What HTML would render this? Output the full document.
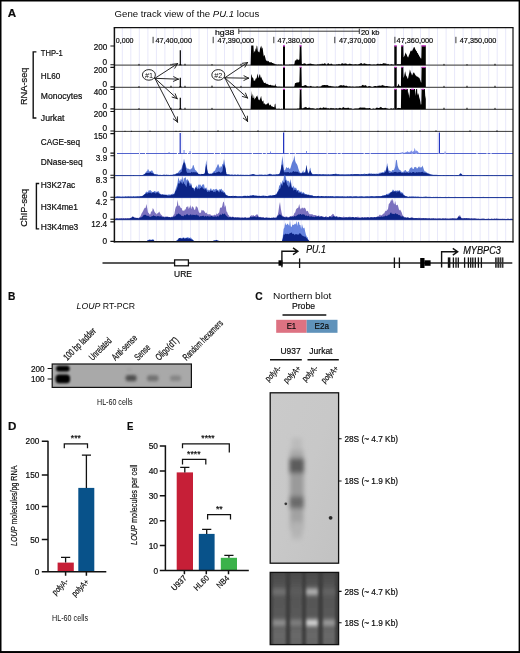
<!DOCTYPE html>
<html lang="en"><head><meta charset="utf-8"><title>LOUP figure</title>
<style>
html,body{margin:0;padding:0;background:#fff;}
body{width:520px;height:653px;overflow:hidden;position:relative;}
svg{position:absolute;left:0;top:0;display:block;will-change:transform;opacity:0.999;}
svg text{font-family:"Liberation Sans",sans-serif;fill:#0c0c0c;stroke:#0c0c0c;stroke-width:.2px;}
svg text.lt{stroke:none;}
</style></head><body>
<svg width="520" height="653" viewBox="0 0 520 653">
<rect x="0" y="0" width="520" height="653" fill="#fff"/>
<path d="M122.3 28.1V241.8M130.8 28.1V241.8M139.3 28.1V241.8M147.9 28.1V241.8M156.4 28.1V241.8M164.9 28.1V241.8M173.4 28.1V241.8M181.9 28.1V241.8M190.5 28.1V241.8M199.0 28.1V241.8M207.5 28.1V241.8M216.0 28.1V241.8M224.5 28.1V241.8M233.1 28.1V241.8M241.6 28.1V241.8M250.1 28.1V241.8M258.6 28.1V241.8M267.1 28.1V241.8M275.7 28.1V241.8M284.2 28.1V241.8M292.7 28.1V241.8M301.2 28.1V241.8M309.7 28.1V241.8M318.3 28.1V241.8M326.8 28.1V241.8M335.3 28.1V241.8M343.8 28.1V241.8M352.3 28.1V241.8M360.9 28.1V241.8M369.4 28.1V241.8M377.9 28.1V241.8M386.4 28.1V241.8M394.9 28.1V241.8M403.5 28.1V241.8M412.0 28.1V241.8M420.5 28.1V241.8M429.0 28.1V241.8M437.5 28.1V241.8M446.1 28.1V241.8M454.6 28.1V241.8M463.1 28.1V241.8M471.6 28.1V241.8M480.1 28.1V241.8M488.7 28.1V241.8M497.2 28.1V241.8M505.7 28.1V241.8" stroke="#e8e8fa" stroke-width="1" fill="none"/>
<path d="M114.4 65.2H513.0" stroke="#5a5a5a" stroke-width="1.3"/>
<path d="M114.4 87.3H513.0" stroke="#5a5a5a" stroke-width="1.3"/>
<path d="M114.4 109.3H513.0" stroke="#5a5a5a" stroke-width="1.3"/>
<path d="M114.4 131.4H513.0" stroke="#222" stroke-width="0.9"/>
<path d="M138.2 65.2L139 63.5L139.8 65.2ZM170.2 65.2L171 63.6L171.8 65.2ZM184.2 65.2L185 63.2L185.8 65.2ZM211.2 65.2L212 63.7L212.8 65.2ZM240.2 65.2L241 63.3L241.8 65.2ZM443.2 65.2L444 63.5L444.8 65.2ZM466.2 65.2L467 63.7L467.8 65.2ZM494.2 65.2L495 63.3L495.8 65.2Z" fill="#000"/>
<path d="M178.9 65.2L179.7 64V50.2H180.9V64L181.9 65.2Z" fill="#000"/>
<path d="M250.6 65.2L250.6 65.2L251.2 45.6L251.7 45.6L252.3 45.6L252.8 45.6L253.4 45.6L253.9 53.1L254.5 50.6L255 52L255.6 48L256.1 50.1L256.7 45.6L257.2 46.3L257.8 50.9L258.3 52.2L258.9 51.2L259.4 52.7L260 49.1L260.5 46L261.1 48.9L261.6 45.6L262.2 47.7L262.7 48.4L263.3 53.3L263.8 56.4L264.4 54.8L264.9 56.2L265.5 58.5L266 60.4L266.6 60.8L267.1 60.5L267.7 61.6L268.2 60.7L268.8 61.6L269.3 62.4L269.9 61.9L270.4 62.5L271 62L271.5 62.2L272.1 62.9L272.6 63L273.2 63.2L273.7 63.4L274.3 63.6L274.8 64.3L275.4 64.3L275.9 64.3L276.5 64.5L277 64.4L277.6 64.7L278.1 64.5L278.7 64.6L279.2 64.7L279.8 64.6L280.3 64.6L280.9 64.7L281.4 64.6L282 64.7L282.5 64.7L282.5 65.2Z" fill="#000"/>
<rect x="283" y="45.6" width="2" height="19.6" fill="#000"/>
<path d="M285 65.2L285 64.7L285.4 64.7L285.8 64.7L286.2 64.7L286.6 64.7L287 64.7L287.4 64.7L287.8 64.7L288.2 64.7L288.6 64.7L289 64.7L289.4 64.6L289.8 64.6L290.2 64.7L290.6 64.6L291 64.6L291.4 64.6L291.8 64.6L292.2 64.6L292.6 64.6L293 64.6L293.4 64.6L293.8 64.6L294.2 64.6L294.6 63.1L295 60.3L295.4 60.4L295.8 60.6L296.2 60.3L296.6 59.6L297 58.4L297.4 59.4L297.8 59.8L298.2 59.6L298.6 60.3L299 59.8L299.4 59.3L299.8 45.6L300.2 45.6L300.6 45.6L301 45.6L301.4 45.6L301.8 63.8L302.2 63.9L302.6 63.9L303 63.9L303 65.2Z" fill="#000"/>
<path d="M303 65.2L303 63.8L304 63.4L305 63.2L306 64.2L307 64.4L308 63.8L309 64.1L310 63.4L311 63.7L312 64L313 64.2L314 64.3L315 64.8L316 64.5L317 64.7L318 64L319 64.7L320 63.7L321 64.5L322 63.5L323 63.9L324 63.7L325 62.9L326 64.4L327 64.4L328 63L329 63.8L330 64.6L331 63.6L332 63.9L333 64.8L334 64.6L335 64.8L336 64.6L337 64.2L338 64.6L339 63.8L340 64.5L341 64.3L342 63.1L343 63.7L344 63.7L345 63.4L346 63.6L347 63.9L348 64.6L349 63.8L350 63.7L351 63.9L352 64.3L353 64.6L354 64.6L355 64.3L356 64.2L357 64.6L358 64.4L359 64.1L360 63.7L361 63L362 63.5L363 64.4L364 62.9L365 63.7L366 63.7L367 64.3L368 64.2L369 64.3L370 64.1L371 64.8L372 64.5L373 64.7L374 64.3L375 64.8L376 64.4L377 64.2L378 63.6L379 64.4L380 63.7L381 64.1L382 63.9L383 63.6L384 62.9L385 63.8L386 63.3L387 64.5L388 63.8L389 64.5L390 64.7L391 64.3L392 64.2L393 64.8L394 64.5L394 65.2Z" fill="#000"/>
<rect x="394.3" y="45.6" width="2.4" height="19.6" fill="#000"/>
<path d="M396.7 65.2L396.7 64.2L397 64.2L397.3 64.2L397.6 64.2L397.9 64.2L398.2 64.2L398.5 64.2L398.8 64.2L399.1 64.2L399.4 64.2L399.7 64.2L400 64.2L400.3 64.2L400.6 64.2L400.9 64.2L401.2 45.6L401.5 45.6L401.8 45.6L402.1 45.6L402.4 45.6L402.7 45.6L403 45.6L403.3 45.6L403.6 57.3L403.9 57L404.2 56.3L404.5 55.9L404.8 55.1L405.1 53.8L405.4 53.4L405.7 52.2L406 53.4L406.3 53.9L406.6 54.5L406.9 55.3L407.2 56.2L407.5 56.6L407.8 57.2L408.1 57.6L408.4 56.9L408.7 55.7L409 55.2L409.3 54.6L409.6 53.7L409.9 53.1L410.2 51.8L410.5 51.3L410.8 50.8L411.1 50.1L411.4 51L411.7 51.1L412 51.6L412.3 50.2L412.6 50.1L412.9 48.9L413.2 48.8L413.5 48L413.8 47.3L414.1 47.1L414.4 47.1L414.7 47.7L415 48.4L415.3 48.9L415.6 49.9L415.9 50.1L416.2 50.9L416.5 50.9L416.8 51.3L417.1 52.5L417.4 52.9L417.7 52.9L418 53.6L418.3 54.5L418.6 54.7L418.9 55.1L419.2 55.9L419.5 56.5L419.8 56.8L420.1 57.2L420.4 58L420.7 58.3L421 58.6L421.3 58.6L421.6 45.6L421.9 45.6L422.2 45.6L422.5 45.6L422.8 45.6L423.1 45.6L423.4 45.6L423.7 45.6L424 45.6L424.3 45.6L424.6 45.6L424.9 45.6L425.2 45.6L425.5 45.6L425.8 45.6L425.8 65.2Z" fill="#000"/>
<path d="M283 45.9H285M299.5 45.9H301.5M394.3 45.9H396.7M401.1 45.9H402.8M421.5 45.9H425.8" stroke="#e23be0" stroke-width="1.1"/>
<path d="M138.2 87.3L139 85.8L139.8 87.3ZM170.2 87.3L171 85.3L171.8 87.3ZM184.2 87.3L185 85.3L185.8 87.3ZM211.2 87.3L212 85.1L212.8 87.3ZM240.2 87.3L241 85.6L241.8 87.3ZM443.2 87.3L444 85.6L444.8 87.3ZM466.2 87.3L467 85.3L467.8 87.3ZM494.2 87.3L495 85.3L495.8 87.3Z" fill="#000"/>
<path d="M178.9 87.3L179.7 86.1V77.8H180.9V86.1L181.9 87.3Z" fill="#000"/>
<path d="M250.6 87.3L250.6 87.3L251.2 75.8L251.7 73.9L252.3 78.2L252.8 77.1L253.4 78.7L253.9 80.9L254.5 80.2L255 80.9L255.6 78.4L256.1 78.8L256.7 77.7L257.2 75.5L257.8 73.4L258.3 77.9L258.9 77.3L259.4 74.7L260 74.3L260.5 77L261.1 78.2L261.6 76.6L262.2 80.9L262.7 79L263.3 81.5L263.8 82.6L264.4 83.1L264.9 83.1L265.5 82.5L266 84.1L266.6 83.8L267.1 83.8L267.7 84.3L268.2 84.3L268.8 85L269.3 85.1L269.9 85.1L270.4 84.7L271 85.1L271.5 85.4L272.1 85.3L272.6 85.5L273.2 85.8L273.7 85.6L274.3 85.6L274.8 85.9L275.4 83.4L275.9 86.3L276.5 86.3L277 86.4L277.6 86.7L278.1 86.6L278.7 86.8L279.2 86.7L279.8 86.6L280.3 86.8L280.9 86.7L281.4 86.8L282 86.7L282.5 86.6L282.5 87.3Z" fill="#000"/>
<rect x="283" y="67" width="2" height="20.3" fill="#000"/>
<path d="M285 87.3L285 86.8L285.4 86.8L285.8 86.8L286.2 86.8L286.6 86.8L287 86.8L287.4 86.8L287.8 86.8L288.2 86.8L288.6 86.7L289 86.8L289.4 86.8L289.8 86.8L290.2 86.7L290.6 86.7L291 86.8L291.4 86.7L291.8 86.7L292.2 86.7L292.6 86.7L293 86.7L293.4 86.8L293.8 86.7L294.2 86.7L294.6 85.5L295 83.1L295.4 83.3L295.8 83.1L296.2 83L296.6 82.4L297 82.3L297.4 82.4L297.8 82.6L298.2 82.4L298.6 82.3L299 82.2L299.4 81.4L299.8 67L300.2 67L300.6 67L301 67L301.4 67L301.8 85.9L302.2 86L302.6 86L303 86.1L303 87.3Z" fill="#000"/>
<path d="M303 87.3L303 86.3L304 85.4L305 85.3L306 85L307 86.2L308 86.2L309 86.4L310 86.3L311 85.8L312 86.7L313 86.4L314 86.8L315 86.7L316 86.7L317 86.3L318 86.4L319 86.8L320 86.5L321 86.5L322 85.3L323 85.2L324 85.1L325 85L326 85.2L327 84.9L328 85.3L329 86.3L330 85.7L331 86.3L332 86.2L333 86.5L334 86.6L335 86.7L336 86.6L337 86.6L338 86.7L339 85.7L340 85.6L341 85L342 85.4L343 85.5L344 85.1L345 86.3L346 85.4L347 85.9L348 86.5L349 86.5L350 86.3L351 86.7L352 86.6L353 86.5L354 86.7L355 86.8L356 86.4L357 86.6L358 86.5L359 86.4L360 86L361 86.4L362 85.3L363 84.8L364 85.8L365 85.3L366 85.2L367 86.7L368 86.6L369 86L370 86.2L371 86.4L372 86.9L373 86.7L374 86.2L375 86L376 85.9L377 86.5L378 85.4L379 86L380 85.3L381 86.3L382 84.7L383 85.5L384 85.4L385 86.3L386 85.9L387 86.1L388 86.3L389 86.6L390 86.4L391 86.7L392 86.7L393 86.8L394 86.2L394 87.3Z" fill="#000"/>
<rect x="394.3" y="67" width="2.4" height="20.3" fill="#000"/>
<path d="M396.7 87.3L396.7 86.3L397 86.2L397.3 86L397.6 85.9L397.9 85.5L398.2 84.7L398.5 83.7L398.8 84L399.1 84.9L399.4 85.8L399.7 85.9L400 86L400.3 86.1L400.6 86.2L400.9 86.3L401.2 67L401.5 67L401.8 67L402.1 67L402.4 67L402.7 67L403 67L403.3 67L403.6 78L403.9 76.9L404.2 76L404.5 74.3L404.8 73L405.1 71.3L405.4 72.3L405.7 73.9L406 75.4L406.3 75.7L406.6 76.2L406.9 77.1L407.2 77.4L407.5 78.4L407.8 78.8L408.1 78.6L408.4 76.8L408.7 75.5L409 74.1L409.3 73L409.6 71.3L409.9 69.4L410.2 70.4L410.5 71.4L410.8 72.5L411.1 73.1L411.4 73.6L411.7 74.6L412 75.6L412.3 74.9L412.6 74.6L412.9 73.4L413.2 73.2L413.5 72.7L413.8 72.3L414.1 72.4L414.4 73.4L414.7 73.4L415 74.4L415.3 74.8L415.6 75.5L415.9 75.4L416.2 75.7L416.5 76.2L416.8 76.6L417.1 76.5L417.4 76.8L417.7 76.7L418 76.8L418.3 77.1L418.6 77.6L418.9 78L419.2 77.8L419.5 78.1L419.8 79.2L420.1 79.8L420.4 80.6L420.7 81.5L421 82.4L421.3 82.4L421.6 67L421.9 67L422.2 67L422.5 67L422.8 67L423.1 67L423.4 67L423.7 67L424 67L424.3 67L424.6 67L424.9 67L425.2 67L425.5 67L425.8 67L425.8 87.3Z" fill="#000"/>
<path d="M283 67.3H285M299.5 67.3H301.5M394.3 67.3H396.7M401.1 67.3H402.8M421.5 67.3H425.8" stroke="#e23be0" stroke-width="1.1"/>
<path d="M138.2 109.3L139 107.7L139.8 109.3ZM170.2 109.3L171 107.3L171.8 109.3ZM184.2 109.3L185 107.3L185.8 109.3ZM211.2 109.3L212 107.5L212.8 109.3ZM240.2 109.3L241 107.7L241.8 109.3ZM443.2 109.3L444 107.2L444.8 109.3ZM466.2 109.3L467 107.2L467.8 109.3ZM494.2 109.3L495 107.4L495.8 109.3Z" fill="#000"/>
<path d="M178.9 109.3L179.7 108.1V97.8H180.9V108.1L181.9 109.3Z" fill="#000"/>
<path d="M250.6 109.3L250.6 109.3L251.2 90.7L251.7 96.8L252.3 93.5L252.8 97.9L253.4 97.9L253.9 95L254.5 99.8L255 98.4L255.6 98L256.1 96.9L256.7 95.7L257.2 97.7L257.8 95L258.3 99.7L258.9 99.5L259.4 100.5L260 98.9L260.5 98.1L261.1 95.7L261.6 99.1L262.2 101.2L262.7 101.6L263.3 100.2L263.8 104.1L264.4 103.1L264.9 104.3L265.5 104.3L266 104.9L266.6 103.9L267.1 104L267.7 103.3L268.2 102.4L268.8 103.7L269.3 105L269.9 105.6L270.4 104.3L271 105.6L271.5 106.5L272.1 105.9L272.6 106.8L273.2 107.1L273.7 107L274.3 107.5L274.8 104.2L275.4 103.5L275.9 108.4L276.5 108.7L277 108.9L277.6 108.8L278.1 108.8L278.7 108.7L279.2 108.7L279.8 108.8L280.3 108.9L280.9 108.9L281.4 108.8L282 108.8L282.5 108.9L282.5 109.3Z" fill="#000"/>
<rect x="283" y="89" width="2" height="20.3" fill="#000"/>
<path d="M285 109.3L285 108.8L285.4 108.8L285.8 108.8L286.2 108.8L286.6 108.8L287 108.8L287.4 108.8L287.8 108.8L288.2 108.8L288.6 108.8L289 108.8L289.4 108.7L289.8 108.8L290.2 108.8L290.6 108.8L291 108.7L291.4 108.8L291.8 108.7L292.2 108.8L292.6 108.7L293 108.7L293.4 108.7L293.8 108.7L294.2 108.8L294.6 108.8L295 108.7L295.4 108.7L295.8 108.7L296.2 108.7L296.6 108.7L297 108.7L297.4 108.6L297.8 108.6L298.2 108.5L298.6 108.4L299 108.4L299.4 108.3L299.8 89L300.2 89L300.6 89L301 89L301.4 89L301.8 108.3L302.2 108.3L302.6 108.3L303 108.4L303 109.3Z" fill="#000"/>
<path d="M303 109.3L303 108.5L304 107.4L305 107.4L306 106.8L307 108L308 108.1L309 107.4L310 107.7L311 108.4L312 108.1L313 108.5L314 108.3L315 108.9L316 108.8L317 108.2L318 108.6L319 108.6L320 107.8L321 107.8L322 108.4L323 107.6L324 107.3L325 108.2L326 107.3L327 108.4L328 108.1L329 108.6L330 108.5L331 107.8L332 108.5L333 108.1L334 108.6L335 108.5L336 108.2L337 108.3L338 108.7L339 108L340 107.8L341 108.3L342 108.4L343 106.9L344 107.6L345 108.2L346 107.8L347 108.3L348 107.5L349 108.1L350 108.7L351 108.1L352 108.9L353 108.8L354 109L355 108.3L356 108.8L357 108.3L358 108.7L359 108L360 107.5L361 107.6L362 107.7L363 107.6L364 107.8L365 107.6L366 108.5L367 108L368 108.5L369 107.9L370 108.1L371 108.9L372 108.9L373 108.4L374 108.5L375 108.9L376 108L377 107.5L378 108.1L379 108L380 107.6L381 106.8L382 108L383 108L384 108.3L385 107.7L386 108.1L387 108.5L388 108.5L389 108.9L390 108.7L391 108.2L392 108.5L393 108.7L394 108L394 109.3Z" fill="#000"/>
<rect x="394.3" y="89" width="2.4" height="20.3" fill="#000"/>
<path d="M396.7 109.3L396.7 108.3L397 108.2L397.3 108.2L397.6 108.1L397.9 108L398.2 108L398.5 107.9L398.8 107.8L399.1 107.9L399.4 107.9L399.7 108L400 108.1L400.3 108.1L400.6 108.2L400.9 108.3L401.2 89L401.5 89L401.8 89L402.1 89L402.4 89L402.7 89L403 89L403.3 89L403.6 89L403.9 89L404.2 89L404.5 89L404.8 89L405.1 89L405.4 89L405.7 89L406 89L406.3 89L406.6 89L406.9 89L407.2 89L407.5 89L407.8 89L408.1 95.8L408.4 93.8L408.7 91.5L409 93.7L409.3 96.4L409.6 98.4L409.9 89L410.2 89L410.5 89L410.8 89L411.1 89L411.4 89L411.7 89L412 89L412.3 89L412.6 89L412.9 89L413.2 89L413.5 89L413.8 89L414.1 89L414.4 89L414.7 89L415 89L415.3 95.9L415.6 93.5L415.9 90.8L416.2 89L416.5 89L416.8 89L417.1 89L417.4 95.6L417.7 94.2L418 92.7L418.3 93.9L418.6 94.4L418.9 95.4L419.2 97.3L419.5 98.2L419.8 99.2L420.1 100.4L420.4 102.1L420.7 103.9L421 105L421.3 103.8L421.6 89L421.9 89L422.2 89L422.5 89L422.8 89L423.1 89L423.4 89L423.7 89L424 89L424.3 89L424.6 89L424.9 89L425.2 95.6L425.5 97.2L425.8 99L425.8 109.3Z" fill="#000"/>
<path d="M283 89.3H285M299.5 89.3H301.5M394.3 89.3H396.7M401.1 89.3H403.4M404.7 89.3H406.8M411 89.3H414M421.5 89.3H424.2" stroke="#e23be0" stroke-width="1.1"/>
<path d="M124.3 131.4L125 130.4L125.7 131.4ZM130.8 131.4L131.5 130.5L132.2 131.4ZM149.3 131.4L150 130.2L150.7 131.4ZM175.3 131.4L176 130.4L176.7 131.4ZM179.3 131.4L180 130.5L180.7 131.4ZM193.3 131.4L194 130.2L194.7 131.4ZM217.3 131.4L218 129.7L218.7 131.4ZM232.3 131.4L233 129.8L233.7 131.4ZM257.3 131.4L258 129.8L258.7 131.4ZM284.3 131.4L285 130.4L285.7 131.4ZM299.3 131.4L300 130.1L300.7 131.4ZM329.3 131.4L330 130.3L330.7 131.4ZM351.3 131.4L352 130.4L352.7 131.4ZM377.3 131.4L378 130.5L378.7 131.4ZM406.3 131.4L407 130.4L407.7 131.4ZM419.3 131.4L420 129.7L420.7 131.4ZM435.3 131.4L436 129.8L436.7 131.4ZM469.3 131.4L470 129.8L470.7 131.4ZM496.3 131.4L497 129.8L497.7 131.4Z" fill="#000"/>
<path d="M117 153.5H513.0" stroke="#3f52c8" stroke-width="0.9" stroke-dasharray="22 1 5 0.9 31 1.1 9 0.9 3 1"/>
<rect x="179.6" y="133" width="1.2" height="20.5" fill="#2336c0"/>
<rect x="183.6" y="150" width="0.9" height="3.5" fill="#6b7de4"/>
<rect x="189.6" y="151" width="0.9" height="2.5" fill="#6b7de4"/>
<rect x="168.6" y="152" width="0.9" height="1.5" fill="#6b7de4"/>
<rect x="283" y="132.5" width="1.2" height="21" fill="#2336c0"/>
<rect x="270.1" y="151.5" width="0.9" height="2" fill="#6b7de4"/>
<rect x="306.1" y="151" width="0.9" height="2.5" fill="#6b7de4"/>
<rect x="438.8" y="132.5" width="1.2" height="21" fill="#2336c0"/>
<rect x="444.6" y="151.5" width="0.9" height="2" fill="#6b7de4"/>
<path d="M399 153.5L399 153.3L399.6 153L400.2 152.8L400.8 152.7L401.4 152.7L402 152.1L402.6 152.2L403.2 152.5L403.8 152.7L404.4 152.7L405 152.7L405.6 152.3L406.2 151.8L406.8 152.3L407.4 151.1L408 151.7L408.6 152L409.2 152.4L409.8 151.7L410.4 151.7L411 150.8L411.6 150.6L412.2 151.7L412.8 151.8L413.4 151.2L414 151.1L414.6 147.8L415.2 149.5L415.8 151.4L416.4 150.3L417 151.1L417.6 150.9L418.2 152.4L418.8 152.6L419.4 153L420 153.2L420 153.5Z" fill="#7d8fe8"/>
<path d="M114.4 175.6H513.0" stroke="#0c2486" stroke-width="0.9"/>
<path d="M114.4 175.6L114.4 175.4L115.2 175.3L116 175.3L116.8 175.3L117.6 175.3L118.4 175.3L119.2 175.3L120 175.2L120.8 175.3L121.6 175.2L122.4 175.2L123.2 175.3L124 175.2L124.8 175.2L125.6 175.2L126.4 175.1L127.2 175.2L128 175.2L128.8 175.1L129.6 175.2L130.4 175.2L131.2 175.2L132 175.1L132.8 175L133.6 175.2L134.4 175.1L135.2 175.1L136 175.1L136.8 175L137.6 175L138.4 175.1L139.2 175.1L140 175L140.8 174.9L141.6 175.1L142.4 175L143.2 174.7L144 174.1L144.8 173.8L145.6 172.6L146.4 171.6L147.2 171.1L148 168.8L148.8 170.5L149.6 171.5L150.4 171.2L151.2 170.8L152 170.3L152.8 171.5L153.6 173L154.4 173.9L155.2 174L156 174.1L156.8 174.3L157.6 174.6L158.4 174.7L159.2 174.7L160 174.8L160.8 174.7L161.6 174.9L162.4 174.9L163.2 174.7L164 174.8L164.8 174.7L165.6 174.9L166.4 174.8L167.2 174.7L168 174.8L168.8 174.7L169.6 174.9L170.4 174.8L171.2 174.7L172 174.8L172.8 174.5L173.6 174.4L174.4 174.5L175.2 174.4L176 173.3L176.8 173.4L177.6 172.9L178.4 172.1L179.2 170.9L180 170L180.8 169.6L181.6 168.3L182.4 165.2L183.2 163.3L184 158.5L184.8 161.9L185.6 164.1L186.4 167.5L187.2 168.3L188 169L188.8 168.4L189.6 169.5L190.4 169.4L191.2 168.4L192 168.5L192.8 165.5L193.6 165L194.4 168L195.2 170.1L196 170.4L196.8 171.6L197.6 172.7L198.4 173.7L199.2 174.2L200 173.7L200.8 174.2L201.6 173.8L202.4 174L203.2 174L204 173.6L204.8 173L205.6 165L206.4 160.1L207.2 169.2L208 173.1L208.8 173.3L209.6 173.7L210.4 173.6L211.2 173.4L212 173.6L212.8 172.4L213.6 171.6L214.4 171.1L215.2 170.3L216 168L216.8 167L217.6 164.4L218.4 164.3L219.2 166.4L220 168.4L220.8 166L221.6 167L222.4 164.1L223.2 163.8L224 159.1L224.8 163.2L225.6 168.6L226.4 173.9L227.2 174.1L228 174.4L228.8 174.3L229.6 174.4L230.4 174.5L231.2 174.8L232 174.6L232.8 174.5L233.6 174.7L234.4 174.7L235.2 174.5L236 174.7L236.8 174.7L237.6 174.6L238.4 174.7L239.2 174.8L240 174.8L240.8 174.8L241.6 174.7L242.4 174.8L243.2 174.6L244 174.9L244.8 174.8L245.6 174.7L246.4 174.8L247.2 174.8L248 174.7L248.8 174.9L249.6 174.9L250.4 174.8L251.2 174.4L252 174.2L252.8 173.9L253.6 174.3L254.4 174.5L255.2 174.6L256 174.7L256.8 174.8L257.6 174.7L258.4 174.7L259.2 174.8L260 174.6L260.8 174.8L261.6 174.7L262.4 174.6L263.2 174.7L264 174.7L264.8 174.8L265.6 174.6L266.4 174.7L267.2 174.7L268 174.6L268.8 174L269.6 173.7L270.4 173.8L271.2 174L272 174.7L272.8 174.6L273.6 174.4L274.4 174.4L275.2 174.5L276 174.4L276.8 174.1L277.6 174.4L278.4 174.1L279.2 174.4L280 171.8L280.8 169.2L281.6 162.5L282.4 155.8L283.2 162.9L284 170L284.8 170.6L285.6 169.1L286.4 166.8L287.2 168.2L288 167.8L288.8 167.6L289.6 169.2L290.4 168.2L291.2 165.5L292 162.7L292.8 161.3L293.6 159.5L294.4 155.3L295.2 161.1L296 162.9L296.8 164L297.6 165.8L298.4 168.7L299.2 170.9L300 172.2L300.8 173.1L301.6 172.7L302.4 171.9L303.2 170L304 172.7L304.8 172.3L305.6 170.2L306.4 164.7L307.2 169.5L308 172.8L308.8 172.6L309.6 169.2L310.4 167.4L311.2 172.7L312 173.5L312.8 173.9L313.6 174.1L314.4 173.9L315.2 174L316 173.9L316.8 174L317.6 174L318.4 174.2L319.2 174.2L320 174.1L320.8 174.3L321.6 174.4L322.4 174.2L323.2 174.1L324 174.1L324.8 174.5L325.6 174.4L326.4 174.5L327.2 174.4L328 174.2L328.8 174.4L329.6 174.5L330.4 174.4L331.2 174.2L332 174L332.8 174L333.6 174L334.4 173.9L335.2 173.8L336 173.5L336.8 174.1L337.6 173.9L338.4 174.3L339.2 174.1L340 174.5L340.8 174.3L341.6 174.4L342.4 174.6L343.2 174.5L344 174.2L344.8 174.3L345.6 174.3L346.4 174.4L347.2 174.2L348 174.3L348.8 174.5L349.6 174.2L350.4 174.3L351.2 174.1L352 174.2L352.8 174.1L353.6 174.4L354.4 174.1L355.2 174.1L356 174L356.8 173.9L357.6 174.1L358.4 174.1L359.2 174L360 174.2L360.8 174L361.6 173.9L362.4 173.9L363.2 173.9L364 173.7L364.8 173.6L365.6 174L366.4 174.1L367.2 173.7L368 173.9L368.8 173.3L369.6 173.6L370.4 173.6L371.2 173.4L372 173.3L372.8 173.9L373.6 173.6L374.4 173.8L375.2 173.6L376 173.9L376.8 173.3L377.6 173.7L378.4 173.6L379.2 172.9L380 172.6L380.8 172.8L381.6 172.4L382.4 171.9L383.2 172.3L384 172.1L384.8 170.2L385.6 170.7L386.4 167.2L387.2 163.1L388 167.4L388.8 171L389.6 170.5L390.4 170.9L391.2 172.1L392 170.3L392.8 170.1L393.6 170.3L394.4 168.9L395.2 166.4L396 160.3L396.8 159.7L397.6 165.5L398.4 168L399.2 169.8L400 169.8L400.8 170.8L401.6 171.8L402.4 171.9L403.2 171.4L404 171.6L404.8 170L405.6 170L406.4 171.3L407.2 171.8L408 171.6L408.8 171.3L409.6 168.9L410.4 168L411.2 167.6L412 167.3L412.8 169L413.6 169L414.4 166.9L415.2 167.3L416 166.7L416.8 168.4L417.6 168.2L418.4 167.1L419.2 166.3L420 167.9L420.8 167L421.6 167.4L422.4 165.6L423.2 167.5L424 170L424.8 171.5L425.6 171.4L426.4 172.1L427.2 173.1L428 172.7L428.8 173.4L429.6 173.8L430.4 174.2L431.2 174.5L432 174.6L432.8 174.7L433.6 174.8L434.4 174.7L435.2 174.7L436 174.7L436.8 174.7L437.6 174.9L438.4 174.9L439.2 175L440 175L440.8 175L441.6 174.9L442.4 175.1L443.2 175L444 175L444.8 174.9L445.6 174.9L446.4 175L447.2 175.1L448 175L448.8 175L449.6 175L450.4 174.9L451.2 175L452 175L452.8 174.9L453.6 175.1L454.4 175.1L455.2 175L456 174.9L456.8 174.9L457.6 175L458.4 174.9L459.2 174.8L460 173.6L460.8 173.1L461.6 174L462.4 175L463.2 175L464 174.9L464.8 175.1L465.6 175L466.4 175L467.2 175.1L468 175.1L468.8 174.9L469.6 175L470.4 175L471.2 175.1L472 175L472.8 175.1L473.6 175.1L474.4 175L475.2 175.1L476 175L476.8 175.1L477.6 175L478.4 175L479.2 175L480 175.1L480.8 175.1L481.6 175L482.4 175.1L483.2 175.1L484 175L484.8 175.2L485.6 175.1L486.4 175.2L487.2 175.1L488 175.1L488.8 175.1L489.6 175.1L490.4 175.2L491.2 175.1L492 175.1L492.8 175.1L493.6 175.1L494.4 175.2L495.2 175.1L496 175.2L496.8 175.2L497.6 175.1L498.4 175.2L499.2 175.2L500 175.2L500.8 175.2L501.6 175.1L502.4 175.2L503.2 175.2L504 175.1L504.8 175.1L505.6 175.1L506.4 175.2L507.2 175.2L508 175.2L508.8 175.1L509.6 175.2L510.4 175.1L511.2 175.2L512 175.2L512.8 175.2L512.8 175.6Z" fill="#4769d0" fill-opacity="0.85"/>
<path d="M114.4 175.6L114.4 175.4L115.2 175.4L116 175.4L116.8 175.3L117.6 175.3L118.4 175.3L119.2 175.4L120 175.3L120.8 175.3L121.6 175.3L122.4 175.2L123.2 175.2L124 175.3L124.8 175.3L125.6 175.2L126.4 175.3L127.2 175.3L128 175.2L128.8 175.2L129.6 175.2L130.4 175.2L131.2 175.3L132 175.3L132.8 175.3L133.6 175.1L134.4 175.3L135.2 175.2L136 175.3L136.8 175.2L137.6 175.2L138.4 175.2L139.2 175.2L140 175.2L140.8 175.1L141.6 175.2L142.4 175.1L143.2 174.9L144 174.4L144.8 173.9L145.6 173.2L146.4 173L147.2 173.1L148 172.7L148.8 172.9L149.6 172.7L150.4 172L151.2 172.7L152 173.1L152.8 173.3L153.6 173.8L154.4 174.5L155.2 174.4L156 174.8L156.8 174.8L157.6 174.7L158.4 175L159.2 174.9L160 175L160.8 175L161.6 175.1L162.4 175.1L163.2 174.8L164 174.9L164.8 174.8L165.6 175L166.4 174.8L167.2 174.9L168 174.9L168.8 175L169.6 175L170.4 175L171.2 175L172 174.9L172.8 174.9L173.6 174.6L174.4 174.6L175.2 174.4L176 173.9L176.8 173.5L177.6 173.5L178.4 173.2L179.2 173.4L180 173.2L180.8 172L181.6 171.9L182.4 167.5L183.2 163.7L184 162.3L184.8 163.1L185.6 166.8L186.4 171L187.2 172.9L188 172.6L188.8 172.9L189.6 172.7L190.4 173.1L191.2 172.2L192 171.8L192.8 172.7L193.6 171.9L194.4 172.3L195.2 172.5L196 172.1L196.8 172.8L197.6 172.7L198.4 174.1L199.2 174.1L200 174.5L200.8 174.5L201.6 174L202.4 174.1L203.2 174.1L204 174L204.8 173.5L205.6 167.5L206.4 163.9L207.2 169.9L208 173.2L208.8 174.2L209.6 174L210.4 174L211.2 173.7L212 174.3L212.8 172.9L213.6 173.2L214.4 172.6L215.2 173L216 173L216.8 171.9L217.6 172.2L218.4 171.5L219.2 171.8L220 172L220.8 172.9L221.6 172.1L222.4 171.4L223.2 166.1L224 164.2L224.8 166.3L225.6 168.7L226.4 174.1L227.2 174.6L228 174.6L228.8 174.6L229.6 174.7L230.4 174.9L231.2 174.7L232 174.8L232.8 174.9L233.6 175L234.4 174.8L235.2 174.8L236 174.9L236.8 175L237.6 174.8L238.4 174.7L239.2 174.9L240 174.9L240.8 174.8L241.6 174.9L242.4 175L243.2 175L244 175L244.8 175L245.6 175L246.4 175L247.2 175L248 174.9L248.8 175L249.6 174.8L250.4 174.8L251.2 174.7L252 174.6L252.8 174.2L253.6 174.3L254.4 174.5L255.2 174.9L256 175L256.8 174.9L257.6 175L258.4 175L259.2 174.8L260 175L260.8 174.8L261.6 174.8L262.4 175L263.2 174.9L264 175L264.8 174.8L265.6 174.9L266.4 175L267.2 174.7L268 174.7L268.8 174.4L269.6 174.1L270.4 174.4L271.2 174.3L272 174.9L272.8 174.7L273.6 174.7L274.4 174.7L275.2 174.8L276 174.4L276.8 174.5L277.6 174.5L278.4 174.3L279.2 174.2L280 172.8L280.8 170L281.6 165.1L282.4 164.2L283.2 167.5L284 172.3L284.8 172.2L285.6 172.2L286.4 172.2L287.2 172.2L288 172L288.8 172.2L289.6 173L290.4 172.3L291.2 172.5L292 172.6L292.8 171.5L293.6 170.9L294.4 171.9L295.2 171.6L296 171.8L296.8 171.8L297.6 171.8L298.4 172.3L299.2 173.2L300 172.9L300.8 173.6L301.6 173.2L302.4 172.4L303.2 173L304 172.7L304.8 172.6L305.6 172.5L306.4 165L307.2 170.1L308 173.4L308.8 173.3L309.6 171.6L310.4 170.5L311.2 172.2L312 174L312.8 174.4L313.6 174.5L314.4 174.4L315.2 174.4L316 174.2L316.8 174.6L317.6 174.4L318.4 174.5L319.2 174.5L320 174.3L320.8 174.7L321.6 174.4L322.4 174.4L323.2 174.6L324 174.7L324.8 174.5L325.6 174.4L326.4 174.6L327.2 174.7L328 174.6L328.8 174.6L329.6 174.7L330.4 174.6L331.2 174.7L332 174.6L332.8 174.4L333.6 174L334.4 174.3L335.2 174.2L336 174.1L336.8 174.4L337.6 174.5L338.4 174.3L339.2 174.7L340 174.6L340.8 174.8L341.6 174.6L342.4 174.5L343.2 174.6L344 174.7L344.8 174.8L345.6 174.7L346.4 174.6L347.2 174.7L348 174.6L348.8 174.5L349.6 174.7L350.4 174.4L351.2 174.3L352 174.4L352.8 174.5L353.6 174.3L354.4 174.3L355.2 174.3L356 174.2L356.8 174.3L357.6 174.2L358.4 174.3L359.2 174.5L360 174.6L360.8 174.4L361.6 174.2L362.4 174.4L363.2 174.3L364 174.5L364.8 174.5L365.6 174.3L366.4 173.9L367.2 174.4L368 174.3L368.8 174.1L369.6 173.7L370.4 174.2L371.2 174.3L372 174.3L372.8 174.1L373.6 174.3L374.4 173.9L375.2 174.3L376 174.2L376.8 174.3L377.6 174.1L378.4 174.2L379.2 173.9L380 173.7L380.8 173.5L381.6 173L382.4 173.1L383.2 173.1L384 173.2L384.8 172.2L385.6 172.1L386.4 169.6L387.2 165.7L388 170L388.8 172.8L389.6 173L390.4 172.7L391.2 172.8L392 172.1L392.8 172.9L393.6 172.3L394.4 172.1L395.2 171.9L396 171.7L396.8 172.6L397.6 172.6L398.4 172.3L399.2 172.3L400 172L400.8 172.2L401.6 173L402.4 173.1L403.2 172.5L404 173.2L404.8 172L405.6 173.1L406.4 172.5L407.2 172.2L408 173.1L408.8 173.1L409.6 172.4L410.4 172.2L411.2 173L412 172.5L412.8 172.1L413.6 172.1L414.4 172.5L415.2 173L416 172.2L416.8 172.3L417.6 172.5L418.4 172.2L419.2 172.2L420 172.3L420.8 172.2L421.6 172.1L422.4 171.8L423.2 172.1L424 173.2L424.8 172.3L425.6 173L426.4 173L427.2 173.5L428 173.8L428.8 174L429.6 174.2L430.4 174.6L431.2 174.7L432 174.8L432.8 174.9L433.6 174.9L434.4 175L435.2 174.9L436 174.9L436.8 174.9L437.6 175L438.4 175L439.2 175.1L440 175.2L440.8 175.1L441.6 175.2L442.4 175.2L443.2 175.1L444 175.1L444.8 175.2L445.6 175.2L446.4 175.1L447.2 175.1L448 175L448.8 175.1L449.6 175.2L450.4 175.1L451.2 175L452 175L452.8 175L453.6 175.2L454.4 175.2L455.2 175.2L456 175.1L456.8 175.1L457.6 175.1L458.4 175.2L459.2 174.9L460 173.9L460.8 173.8L461.6 174.2L462.4 175.1L463.2 175L464 175L464.8 175.1L465.6 175.2L466.4 175.2L467.2 175.1L468 175.1L468.8 175.2L469.6 175.2L470.4 175.1L471.2 175.1L472 175.2L472.8 175.1L473.6 175.1L474.4 175.2L475.2 175.2L476 175.1L476.8 175.2L477.6 175.2L478.4 175.2L479.2 175.2L480 175.3L480.8 175.2L481.6 175.2L482.4 175.2L483.2 175.1L484 175.2L484.8 175.1L485.6 175.2L486.4 175.1L487.2 175.1L488 175.1L488.8 175.2L489.6 175.2L490.4 175.3L491.2 175.2L492 175.1L492.8 175.2L493.6 175.2L494.4 175.2L495.2 175.2L496 175.2L496.8 175.2L497.6 175.3L498.4 175.2L499.2 175.2L500 175.3L500.8 175.2L501.6 175.3L502.4 175.3L503.2 175.3L504 175.2L504.8 175.2L505.6 175.3L506.4 175.3L507.2 175.2L508 175.2L508.8 175.3L509.6 175.3L510.4 175.3L511.2 175.3L512 175.3L512.8 175.3L512.8 175.6Z" fill="#0c2486"/>
<path d="M114.4 197.6H513.0" stroke="#0c2486" stroke-width="0.9"/>
<path d="M114.4 197.6L114.4 196.6L115.2 196.7L116 196.7L116.8 196.4L117.6 196.5L118.4 196.5L119.2 196.5L120 196.6L120.8 196.5L121.6 196.5L122.4 196.4L123.2 196.5L124 196.4L124.8 196.5L125.6 196.6L126.4 196.6L127.2 196.4L128 196.6L128.8 196.4L129.6 196.4L130.4 196.7L131.2 196.4L132 196.7L132.8 196.3L133.6 196.3L134.4 196.6L135.2 196.3L136 196.3L136.8 196.6L137.6 196.3L138.4 196.6L139.2 196.2L140 196.3L140.8 195.9L141.6 196.2L142.4 195.9L143.2 195.3L144 194.5L144.8 194.2L145.6 192.4L146.4 191.6L147.2 192.1L148 191.9L148.8 190.3L149.6 190.5L150.4 190L151.2 191L152 191.8L152.8 192.3L153.6 191.7L154.4 191L155.2 191L156 192.2L156.8 191.4L157.6 191.6L158.4 191.1L159.2 192.2L160 193.4L160.8 194L161.6 194.5L162.4 194.8L163.2 194.2L164 194.2L164.8 194.4L165.6 195.1L166.4 194.6L167.2 195.1L168 194.4L168.8 194.6L169.6 194.5L170.4 194.6L171.2 194.7L172 194.2L172.8 193.5L173.6 194L174.4 193.3L175.2 190.4L176 188L176.8 185.8L177.6 182.6L178.4 176.9L179.2 180L180 181.6L180.8 178.8L181.6 179.9L182.4 176L183.2 181.9L184 177.4L184.8 178.6L185.6 176.8L186.4 180.8L187.2 179.1L188 180.1L188.8 181.2L189.6 182.9L190.4 183.8L191.2 183.2L192 187.5L192.8 188L193.6 187.8L194.4 189.2L195.2 187.5L196 186.8L196.8 185.3L197.6 187.9L198.4 184.3L199.2 185.3L200 184.1L200.8 185.5L201.6 186.3L202.4 184.5L203.2 184.4L204 184.2L204.8 188.6L205.6 187.7L206.4 187.6L207.2 189.4L208 190.6L208.8 189.6L209.6 190.4L210.4 188.5L211.2 188.6L212 190.8L212.8 189.4L213.6 188.9L214.4 189.7L215.2 189.2L216 189L216.8 188.8L217.6 190.2L218.4 190.7L219.2 188.9L220 189.8L220.8 189L221.6 188.7L222.4 190.6L223.2 190.6L224 192L224.8 192.3L225.6 193.8L226.4 195.1L227.2 195.3L228 195.7L228.8 196L229.6 196L230.4 195.9L231.2 196.1L232 195.9L232.8 195.7L233.6 195.7L234.4 196.2L235.2 195.8L236 195.9L236.8 195.9L237.6 196.3L238.4 195.9L239.2 196.2L240 195.9L240.8 196.2L241.6 196.1L242.4 196.2L243.2 195.7L244 196.1L244.8 195.6L245.6 195.8L246.4 196L247.2 195.6L248 195.7L248.8 196L249.6 195.4L250.4 195.7L251.2 195.8L252 195.1L252.8 195.1L253.6 195.3L254.4 195.4L255.2 195.3L256 195.4L256.8 195.5L257.6 195.7L258.4 195.8L259.2 195.7L260 196L260.8 196L261.6 195.8L262.4 195.6L263.2 195.6L264 195.6L264.8 195.8L265.6 195.7L266.4 196.1L267.2 195.9L268 196.1L268.8 195.5L269.6 195.3L270.4 195.4L271.2 195.3L272 195.5L272.8 195.1L273.6 195.6L274.4 195.3L275.2 195L276 193.6L276.8 193.4L277.6 191.5L278.4 189.9L279.2 185.2L280 185.5L280.8 181.8L281.6 184L282.4 179.9L283.2 182.1L284 176.2L284.8 174.3L285.6 175.9L286.4 180.1L287.2 180.4L288 181.5L288.8 180.5L289.6 183.3L290.4 178.9L291.2 183L292 186.6L292.8 187.8L293.6 185.5L294.4 187.7L295.2 188.1L296 187.6L296.8 189.5L297.6 190.6L298.4 189.8L299.2 190.7L300 191.9L300.8 191.6L301.6 191.5L302.4 192.9L303.2 192.1L304 192.7L304.8 193.5L305.6 194.2L306.4 193.9L307.2 194.6L308 194.9L308.8 194.4L309.6 195.1L310.4 195.4L311.2 194.9L312 195L312.8 195.8L313.6 195.9L314.4 196L315.2 195.9L316 196.3L316.8 196L317.6 196.2L318.4 195.8L319.2 196.1L320 195.9L320.8 196.1L321.6 196L322.4 196.4L323.2 196.3L324 196.3L324.8 196.2L325.6 196.3L326.4 196.2L327.2 196.4L328 196.2L328.8 196L329.6 196.1L330.4 196.2L331.2 196L332 196.2L332.8 196.2L333.6 196.3L334.4 196.5L335.2 196.1L336 196.2L336.8 196.2L337.6 196.3L338.4 196.2L339.2 196.2L340 196.2L340.8 196.3L341.6 196.6L342.4 196.2L343.2 196.4L344 196.4L344.8 196.4L345.6 196.5L346.4 196.6L347.2 196.3L348 196.3L348.8 196.6L349.6 196.2L350.4 196.2L351.2 196.2L352 196.4L352.8 196.4L353.6 196.4L354.4 196.5L355.2 196.2L356 196.2L356.8 196.2L357.6 196.4L358.4 196.4L359.2 196.3L360 196.5L360.8 196.5L361.6 196.2L362.4 196.5L363.2 196.5L364 196.4L364.8 196.6L365.6 196.4L366.4 196.5L367.2 196.3L368 196.6L368.8 196.3L369.6 196.5L370.4 196.3L371.2 196.2L372 196.1L372.8 196.5L373.6 196.1L374.4 196.4L375.2 196.3L376 196.5L376.8 196.2L377.6 196.4L378.4 196.1L379.2 195.9L380 195.9L380.8 195.9L381.6 196.1L382.4 195.4L383.2 195.6L384 194.9L384.8 195.3L385.6 194.9L386.4 193.9L387.2 193.7L388 194.1L388.8 193.3L389.6 192.7L390.4 192.7L391.2 192L392 191.6L392.8 189.4L393.6 190.1L394.4 191.3L395.2 190.7L396 190.5L396.8 190.9L397.6 190.3L398.4 190.7L399.2 190.8L400 190.7L400.8 191.9L401.6 192.2L402.4 192.5L403.2 193.5L404 194.7L404.8 195.4L405.6 196.1L406.4 196.2L407.2 196.5L408 196.7L408.8 196.7L409.6 196.7L410.4 196.7L411.2 196.5L412 196.6L412.8 196.5L413.6 196.6L414.4 196.6L415.2 196.6L416 196.6L416.8 196.5L417.6 196.7L418.4 196.7L419.2 196.8L420 196.8L420.8 196.7L421.6 196.8L422.4 196.9L423.2 196.6L424 196.9L424.8 196.8L425.6 196.8L426.4 196.8L427.2 196.7L428 196.7L428.8 196.8L429.6 196.7L430.4 196.7L431.2 196.9L432 196.9L432.8 196.9L433.6 196.7L434.4 196.9L435.2 196.7L436 196.9L436.8 196.8L437.6 196.8L438.4 197L439.2 196.9L440 196.8L440.8 196.9L441.6 197L442.4 196.9L443.2 196.9L444 196.9L444.8 196.9L445.6 196.8L446.4 196.9L447.2 196.9L448 196.9L448.8 196.8L449.6 197L450.4 196.9L451.2 196.9L452 197L452.8 197L453.6 197L454.4 196.9L455.2 196.8L456 196.9L456.8 196.9L457.6 197L458.4 197L459.2 196.9L460 197L460.8 197L461.6 197L462.4 197L463.2 197L464 196.9L464.8 197L465.6 197L466.4 197L467.2 196.9L468 196.9L468.8 196.9L469.6 197.1L470.4 196.9L471.2 196.9L472 196.9L472.8 196.8L473.6 196.9L474.4 197L475.2 196.9L476 197L476.8 196.9L477.6 197L478.4 196.9L479.2 196.9L480 196.9L480.8 197L481.6 196.9L482.4 196.9L483.2 196.8L484 196.9L484.8 197L485.6 196.9L486.4 197L487.2 196.9L488 197.1L488.8 197.1L489.6 197L490.4 197.1L491.2 196.9L492 196.9L492.8 197L493.6 196.9L494.4 197L495.2 196.9L496 197.1L496.8 196.9L497.6 197L498.4 197L499.2 197L500 197.1L500.8 197.1L501.6 197L502.4 197L503.2 196.9L504 197L504.8 197L505.6 197L506.4 197.1L507.2 196.9L508 196.9L508.8 197L509.6 196.9L510.4 197L511.2 197L512 197L512.8 196.9L512.8 197.6Z" fill="#4769d0" fill-opacity="0.85"/>
<path d="M114.4 197.6L114.4 196.7L115.2 196.9L116 196.8L116.8 196.8L117.6 196.6L118.4 196.7L119.2 196.6L120 196.9L120.8 196.7L121.6 196.9L122.4 196.8L123.2 196.7L124 196.9L124.8 196.8L125.6 196.6L126.4 196.7L127.2 196.8L128 196.6L128.8 196.5L129.6 196.8L130.4 196.5L131.2 196.6L132 196.7L132.8 196.8L133.6 196.4L134.4 196.7L135.2 196.8L136 196.8L136.8 196.5L137.6 196.6L138.4 196.5L139.2 196.5L140 196.6L140.8 196.2L141.6 196.3L142.4 196L143.2 195.5L144 195L144.8 194.1L145.6 193.8L146.4 193L147.2 193.7L148 193L148.8 192.5L149.6 192.7L150.4 192.5L151.2 193.2L152 193.2L152.8 192.2L153.6 192.5L154.4 192.5L155.2 193.3L156 193.6L156.8 192.2L157.6 192.6L158.4 192.8L159.2 194.1L160 193.7L160.8 194.7L161.6 194.7L162.4 194.3L163.2 194.9L164 195L164.8 194.9L165.6 194.8L166.4 194.9L167.2 195.5L168 195.7L168.8 195.4L169.6 195.4L170.4 195.4L171.2 194.6L172 194.7L172.8 194.9L173.6 194.2L174.4 194.2L175.2 191.4L176 190.5L176.8 188.8L177.6 186.6L178.4 183.1L179.2 183.7L180 182.9L180.8 181.3L181.6 182.9L182.4 184.2L183.2 181.5L184 183.5L184.8 184.3L185.6 185.6L186.4 187.2L187.2 183.2L188 180.2L188.8 183.1L189.6 185.9L190.4 185.7L191.2 184.6L192 187.9L192.8 187.5L193.6 188.9L194.4 191.4L195.2 188.2L196 187.3L196.8 188.2L197.6 189.5L198.4 188.1L199.2 189.6L200 187.9L200.8 188.3L201.6 186.9L202.4 187.3L203.2 189.2L204 188L204.8 190.1L205.6 188.7L206.4 189.7L207.2 191.9L208 191.7L208.8 191.3L209.6 192L210.4 190.2L211.2 190.9L212 190.5L212.8 191L213.6 192.2L214.4 191.4L215.2 192.5L216 190.6L216.8 190.5L217.6 190.4L218.4 191.8L219.2 192.5L220 190.7L220.8 190.3L221.6 192.3L222.4 191.6L223.2 193.1L224 192.3L224.8 193.3L225.6 195L226.4 195.3L227.2 195.6L228 196.2L228.8 195.9L229.6 196.1L230.4 196.3L231.2 196.1L232 196L232.8 196.3L233.6 196.3L234.4 195.9L235.2 196.1L236 196.3L236.8 196.2L237.6 196.5L238.4 196.4L239.2 196.4L240 196.3L240.8 196.4L241.6 196.4L242.4 196.5L243.2 196.1L244 196.3L244.8 195.9L245.6 195.9L246.4 196.3L247.2 196.2L248 195.9L248.8 196.1L249.6 196.2L250.4 195.6L251.2 195.7L252 195.7L252.8 195.4L253.6 195.3L254.4 195.8L255.2 196L256 195.8L256.8 195.9L257.6 196L258.4 195.9L259.2 196L260 195.8L260.8 196.3L261.6 196.1L262.4 196.2L263.2 195.8L264 196.2L264.8 196.3L265.6 196.1L266.4 196.1L267.2 196.2L268 196.2L268.8 195.7L269.6 196L270.4 195.6L271.2 195.8L272 196.1L272.8 195.3L273.6 195.3L274.4 195.1L275.2 194.9L276 194.4L276.8 194.3L277.6 192.1L278.4 191.2L279.2 189.1L280 189L280.8 187.1L281.6 183.7L282.4 186.1L283.2 182.1L284 182.9L284.8 182.2L285.6 179.5L286.4 181.9L287.2 185.3L288 185.4L288.8 187.5L289.6 186.1L290.4 181.8L291.2 186.7L292 188.1L292.8 187.8L293.6 190.7L294.4 189.4L295.2 190.1L296 189.6L296.8 192L297.6 190.3L298.4 192.7L299.2 192.8L300 192.4L300.8 192.8L301.6 193.8L302.4 194.1L303.2 193.1L304 194.4L304.8 194.2L305.6 194.4L306.4 194.8L307.2 194.8L308 195L308.8 194.7L309.6 195.6L310.4 195.2L311.2 195.7L312 195.8L312.8 195.8L313.6 196.3L314.4 196.3L315.2 196.1L316 196.5L316.8 196.3L317.6 196L318.4 196L319.2 196.5L320 196.5L320.8 196.4L321.6 196.1L322.4 196.2L323.2 196.2L324 196.4L324.8 196.5L325.6 196.2L326.4 196.3L327.2 196.4L328 196.2L328.8 196.4L329.6 196.7L330.4 196.3L331.2 196.6L332 196.4L332.8 196.3L333.6 196.7L334.4 196.7L335.2 196.7L336 196.5L336.8 196.6L337.6 196.5L338.4 196.5L339.2 196.7L340 196.5L340.8 196.7L341.6 196.6L342.4 196.4L343.2 196.4L344 196.7L344.8 196.6L345.6 196.7L346.4 196.8L347.2 196.5L348 196.5L348.8 196.7L349.6 196.5L350.4 196.6L351.2 196.6L352 196.8L352.8 196.8L353.6 196.4L354.4 196.4L355.2 196.6L356 196.4L356.8 196.5L357.6 196.7L358.4 196.7L359.2 196.7L360 196.4L360.8 196.5L361.6 196.4L362.4 196.4L363.2 196.7L364 196.7L364.8 196.7L365.6 196.5L366.4 196.4L367.2 196.6L368 196.5L368.8 196.7L369.6 196.4L370.4 196.4L371.2 196.3L372 196.4L372.8 196.3L373.6 196.7L374.4 196.4L375.2 196.5L376 196.2L376.8 196.3L377.6 196.2L378.4 196.2L379.2 196.5L380 196.2L380.8 196.4L381.6 195.9L382.4 195.8L383.2 196L384 195.4L384.8 195.4L385.6 195.4L386.4 194.6L387.2 195L388 195L388.8 194.5L389.6 194L390.4 192.7L391.2 191.7L392 192.5L392.8 190.7L393.6 191.7L394.4 191.3L395.2 191.9L396 190.5L396.8 192.9L397.6 191.3L398.4 192.1L399.2 190L400 192.5L400.8 193.4L401.6 193.4L402.4 193.6L403.2 194.9L404 195.3L404.8 196L405.6 196.2L406.4 196.3L407.2 196.7L408 196.7L408.8 196.9L409.6 196.6L410.4 196.8L411.2 196.7L412 196.7L412.8 196.7L413.6 196.8L414.4 196.9L415.2 196.8L416 196.9L416.8 196.9L417.6 196.7L418.4 196.8L419.2 196.9L420 196.9L420.8 196.9L421.6 196.9L422.4 196.9L423.2 197L424 196.9L424.8 196.8L425.6 196.8L426.4 196.8L427.2 196.9L428 197L428.8 196.9L429.6 197.1L430.4 197L431.2 197L432 196.9L432.8 196.9L433.6 197L434.4 197L435.2 197L436 197L436.8 196.9L437.6 196.9L438.4 197.1L439.2 197.1L440 197L440.8 197L441.6 197L442.4 196.9L443.2 196.9L444 197L444.8 197.1L445.6 197.1L446.4 197.1L447.2 197.1L448 197L448.8 196.9L449.6 197.1L450.4 197L451.2 197L452 197.1L452.8 197L453.6 197L454.4 197.1L455.2 197L456 197.1L456.8 197L457.6 197L458.4 197.1L459.2 197L460 197.1L460.8 196.9L461.6 197L462.4 197.1L463.2 197.1L464 197L464.8 197L465.6 197L466.4 197L467.2 196.9L468 197L468.8 196.9L469.6 197L470.4 197L471.2 197L472 197L472.8 197L473.6 197L474.4 197L475.2 197L476 197.1L476.8 197.1L477.6 197.1L478.4 197L479.2 197L480 197L480.8 197L481.6 197.1L482.4 197.1L483.2 197.1L484 197.1L484.8 197.1L485.6 197L486.4 197.1L487.2 197.1L488 197L488.8 197L489.6 197.2L490.4 197.1L491.2 197.1L492 197.1L492.8 197.1L493.6 197.1L494.4 197L495.2 197.1L496 197L496.8 197L497.6 197L498.4 197.1L499.2 197.2L500 197.1L500.8 197L501.6 197L502.4 197L503.2 197.1L504 197L504.8 197.1L505.6 197.1L506.4 197.1L507.2 197.1L508 197.1L508.8 197.2L509.6 197.1L510.4 197.1L511.2 197.1L512 197.2L512.8 197.1L512.8 197.6Z" fill="#0c2486"/>
<path d="M114.4 219.7H513.0" stroke="#0c2486" stroke-width="0.9"/>
<path d="M114.4 219.7L114.4 218.6L115.2 218.5L116 218.6L116.8 218.3L117.6 218.6L118.4 218.4L119.2 218.2L120 218.4L120.8 218.2L121.6 218.3L122.4 218.3L123.2 218.3L124 218.3L124.8 218.4L125.6 218L126.4 218.3L127.2 218L128 218.1L128.8 218.5L129.6 218.3L130.4 218L131.2 217.4L132 217.5L132.8 216.3L133.6 217.2L134.4 217.5L135.2 217.4L136 217.6L136.8 218L137.6 217.7L138.4 217.9L139.2 217.5L140 217.1L140.8 215.6L141.6 213.6L142.4 212.3L143.2 210.8L144 209.1L144.8 207.8L145.6 208L146.4 204L147.2 208.1L148 212.5L148.8 213L149.6 214.5L150.4 214.3L151.2 211.1L152 211.9L152.8 208.1L153.6 209.3L154.4 211.6L155.2 212.7L156 213.5L156.8 214.5L157.6 212.9L158.4 212.7L159.2 211.5L160 213.1L160.8 214.4L161.6 215L162.4 216L163.2 216.6L164 216.7L164.8 216.8L165.6 216.5L166.4 216.4L167.2 216.5L168 216.6L168.8 217.3L169.6 216.9L170.4 217.2L171.2 216.7L172 216.7L172.8 216.6L173.6 215.1L174.4 214L175.2 209.2L176 206.6L176.8 206.2L177.6 199.7L178.4 206.1L179.2 205.2L180 206.5L180.8 208L181.6 208L182.4 210.7L183.2 210.3L184 211.3L184.8 209.6L185.6 209.5L186.4 206.7L187.2 207.3L188 205.8L188.8 209L189.6 207.3L190.4 204.9L191.2 209.2L192 206.4L192.8 206.5L193.6 207.8L194.4 210L195.2 209.6L196 205.8L196.8 207L197.6 207.4L198.4 210.6L199.2 213.1L200 212.6L200.8 212.9L201.6 209.7L202.4 210.5L203.2 210.2L204 210.8L204.8 212.1L205.6 213.3L206.4 212.6L207.2 214L208 214.4L208.8 214.2L209.6 214.3L210.4 214.5L211.2 215.1L212 215.7L212.8 215.2L213.6 215.4L214.4 214.6L215.2 215.3L216 214.8L216.8 213.2L217.6 214.4L218.4 212.9L219.2 212.5L220 207.9L220.8 207.6L221.6 207.8L222.4 205.4L223.2 201.4L224 202.5L224.8 207.5L225.6 205.1L226.4 211.2L227.2 212.3L228 214.6L228.8 215.3L229.6 216.8L230.4 216.4L231.2 217.1L232 216.7L232.8 216.6L233.6 217L234.4 217.6L235.2 217.1L236 217.4L236.8 217.2L237.6 217.2L238.4 217.8L239.2 217.4L240 217.4L240.8 217.2L241.6 217.4L242.4 217.4L243.2 217.3L244 217.8L244.8 217.2L245.6 217.4L246.4 217.4L247.2 217.8L248 217.5L248.8 217.6L249.6 217.4L250.4 216.1L251.2 215.5L252 215.3L252.8 215.7L253.6 215.1L254.4 216.5L255.2 215.6L256 215.1L256.8 214.3L257.6 214.6L258.4 216.1L259.2 217.2L260 216.8L260.8 217L261.6 217.4L262.4 217.1L263.2 217L264 217.4L264.8 217.8L265.6 217.8L266.4 217.2L267.2 217.8L268 217.4L268.8 217.9L269.6 217.9L270.4 217.9L271.2 217.4L272 217.9L272.8 217.6L273.6 217.3L274.4 217.5L275.2 217.9L276 217.9L276.8 216.2L277.6 215.4L278.4 211.7L279.2 205.8L280 202.1L280.8 208.6L281.6 212.8L282.4 215.8L283.2 216L284 216.4L284.8 217.2L285.6 216.5L286.4 216.6L287.2 216.8L288 217L288.8 217.2L289.6 216.5L290.4 216.4L291.2 215.8L292 216.2L292.8 215.7L293.6 215.4L294.4 212.9L295.2 212.6L296 209.6L296.8 208.6L297.6 208L298.4 207.5L299.2 204L300 207.8L300.8 209.6L301.6 207.9L302.4 207.4L303.2 208.8L304 207.4L304.8 207.9L305.6 208.8L306.4 211.6L307.2 210.7L308 211.2L308.8 213.3L309.6 214.2L310.4 214.2L311.2 214.3L312 214.3L312.8 214.5L313.6 215.3L314.4 214.9L315.2 215.2L316 215L316.8 216.1L317.6 216.1L318.4 215.5L319.2 215.6L320 216.5L320.8 215.9L321.6 216.1L322.4 216.3L323.2 216.6L324 217.1L324.8 216.9L325.6 216.3L326.4 216.2L327.2 217L328 217.2L328.8 216.7L329.6 215.9L330.4 216.6L331.2 215.4L332 214.7L332.8 213.8L333.6 214.2L334.4 215.8L335.2 216.7L336 216.5L336.8 216.6L337.6 216.4L338.4 216.9L339.2 216.6L340 217.4L340.8 217.2L341.6 217.2L342.4 217.3L343.2 216.7L344 216.6L344.8 217.4L345.6 217L346.4 217.5L347.2 217.3L348 217.4L348.8 216.8L349.6 216.7L350.4 216.7L351.2 217.3L352 217.2L352.8 217.3L353.6 217L354.4 217.4L355.2 216.9L356 217.2L356.8 217.1L357.6 216.8L358.4 216.8L359.2 217.4L360 217L360.8 217.4L361.6 217.6L362.4 216.9L363.2 217.5L364 217.4L364.8 217L365.6 216.9L366.4 217.3L367.2 217L368 217.3L368.8 217.6L369.6 217.2L370.4 217.5L371.2 217.5L372 217.3L372.8 217L373.6 217.3L374.4 217.3L375.2 216.9L376 217.1L376.8 216.7L377.6 216.5L378.4 216.6L379.2 215.2L380 214.4L380.8 215.6L381.6 215.2L382.4 214.8L383.2 213.6L384 213.7L384.8 212L385.6 210.7L386.4 211L387.2 210.1L388 208.9L388.8 204.1L389.6 203.2L390.4 201.7L391.2 199.3L392 201.2L392.8 198.7L393.6 203L394.4 204.6L395.2 201L396 205.1L396.8 205.3L397.6 204.6L398.4 207.3L399.2 210.6L400 209.5L400.8 210.7L401.6 212.3L402.4 214.8L403.2 216.1L404 216.5L404.8 217.4L405.6 217.3L406.4 217.5L407.2 217.6L408 217.4L408.8 217.9L409.6 217.9L410.4 217.7L411.2 217.5L412 217.5L412.8 217.6L413.6 218L414.4 218L415.2 218.1L416 218.1L416.8 218.2L417.6 218.2L418.4 217.8L419.2 218.1L420 217.8L420.8 218L421.6 218L422.4 217.9L423.2 218.1L424 218.3L424.8 218.2L425.6 218.2L426.4 218.4L427.2 218.2L428 218.1L428.8 218.4L429.6 218.5L430.4 218.5L431.2 218.4L432 218.5L432.8 218.4L433.6 218.1L434.4 218.5L435.2 218.5L436 218.4L436.8 218.6L437.6 218.3L438.4 218.3L439.2 218.7L440 218.5L440.8 218.4L441.6 218.7L442.4 218.5L443.2 218.4L444 218.3L444.8 218.6L445.6 218.3L446.4 218.5L447.2 218.4L448 218.6L448.8 218.7L449.6 218.5L450.4 218.3L451.2 218.6L452 218.3L452.8 218.3L453.6 218.5L454.4 218.5L455.2 218.3L456 218.7L456.8 218.5L457.6 217.8L458.4 216.1L459.2 215.7L460 215L460.8 216.9L461.6 217.9L462.4 217.9L463.2 218.4L464 218.1L464.8 218.4L465.6 218L466.4 218L467.2 218.1L468 218.2L468.8 218.1L469.6 218.5L470.4 218.5L471.2 218.2L472 218.4L472.8 218.6L473.6 218.3L474.4 218.4L475.2 218.7L476 218.4L476.8 218.5L477.6 218.5L478.4 218.8L479.2 218.9L480 218.9L480.8 218.6L481.6 218.9L482.4 218.8L483.2 218.8L484 218.7L484.8 218.8L485.6 218.9L486.4 218.7L487.2 218.9L488 218.8L488.8 218.8L489.6 218.9L490.4 218.9L491.2 218.7L492 218.9L492.8 218.7L493.6 218.7L494.4 218.6L495.2 218.7L496 218.7L496.8 218.6L497.6 218.9L498.4 218.9L499.2 218.7L500 218.8L500.8 218.8L501.6 218.8L502.4 218.9L503.2 218.8L504 218.8L504.8 218.7L505.6 218.9L506.4 218.9L507.2 218.7L508 218.7L508.8 218.8L509.6 218.9L510.4 218.7L511.2 218.7L512 218.9L512.8 218.9L512.8 219.7Z" fill="#6d62b8" fill-opacity="0.9"/>
<path d="M114.4 219.7L114.4 218.5L115.2 218.9L116 218.6L116.8 218.6L117.6 218.4L118.4 218.7L119.2 218.4L120 218.7L120.8 218.4L121.6 218.6L122.4 218.7L123.2 218.6L124 218.5L124.8 218.7L125.6 218.6L126.4 218.7L127.2 218.7L128 218.6L128.8 218.6L129.6 218.5L130.4 218.1L131.2 218L132 217.3L132.8 216.4L133.6 217.1L134.4 217.7L135.2 218L136 218L136.8 217.9L137.6 218.1L138.4 218.4L139.2 218L140 217.5L140.8 217.4L141.6 217.2L142.4 216.7L143.2 215.6L144 215L144.8 214.7L145.6 214.7L146.4 215.5L147.2 215.9L148 215.5L148.8 216.2L149.6 216.7L150.4 216.9L151.2 216.6L152 216.2L152.8 216L153.6 215.2L154.4 215.9L155.2 216L156 216.5L156.8 216.4L157.6 216.1L158.4 215.9L159.2 216.7L160 215.9L160.8 216.4L161.6 216.6L162.4 217.2L163.2 216.7L164 216.9L164.8 217.5L165.6 217.1L166.4 216.9L167.2 217.1L168 216.9L168.8 217.3L169.6 217.1L170.4 217.7L171.2 217L172 217.5L172.8 216.9L173.6 216.5L174.4 216.6L175.2 216.2L176 215.6L176.8 214L177.6 214.4L178.4 213.2L179.2 213.9L180 214.6L180.8 214.7L181.6 216L182.4 215.8L183.2 216.6L184 215.6L184.8 214.8L185.6 215.6L186.4 214.4L187.2 213.7L188 215.1L188.8 215.3L189.6 215.2L190.4 214L191.2 215.5L192 214.2L192.8 215.2L193.6 214.7L194.4 214.9L195.2 214.8L196 215.5L196.8 214.3L197.6 215.4L198.4 215.2L199.2 216.7L200 216.6L200.8 216L201.6 216.3L202.4 215.9L203.2 215.4L204 216.3L204.8 216.7L205.6 215.7L206.4 216.7L207.2 216.1L208 216.3L208.8 216.6L209.6 216.5L210.4 216.6L211.2 216.1L212 216.1L212.8 216.8L213.6 216.7L214.4 216.8L215.2 216.1L216 217.1L216.8 216.6L217.6 215.9L218.4 216.8L219.2 215.4L220 214.5L220.8 214.4L221.6 215.2L222.4 213.3L223.2 214.4L224 213.8L224.8 213.4L225.6 215.1L226.4 215.8L227.2 216.6L228 216.9L228.8 217.4L229.6 216.9L230.4 216.9L231.2 217.7L232 217.3L232.8 217.1L233.6 217.2L234.4 217.7L235.2 217.6L236 217.5L236.8 217.7L237.6 217.4L238.4 217.5L239.2 217.5L240 218.1L240.8 218.2L241.6 217.8L242.4 217.8L243.2 218L244 218L244.8 217.6L245.6 217.6L246.4 218.2L247.2 218.1L248 217.7L248.8 217.9L249.6 217.8L250.4 216.6L251.2 216.9L252 217.2L252.8 216.8L253.6 216.8L254.4 216.6L255.2 216.5L256 217.4L256.8 216.8L257.6 216.3L258.4 217.3L259.2 217.3L260 217.3L260.8 217.4L261.6 217.6L262.4 218L263.2 217.4L264 217.9L264.8 217.9L265.6 217.8L266.4 217.8L267.2 217.7L268 217.9L268.8 217.7L269.6 217.8L270.4 217.9L271.2 218.1L272 217.8L272.8 217.9L273.6 217.7L274.4 218L275.2 217.6L276 217.7L276.8 217.4L277.6 215.6L278.4 215.5L279.2 214.5L280 214.2L280.8 215.1L281.6 215.5L282.4 216.4L283.2 217.1L284 217.1L284.8 217.2L285.6 217.6L286.4 216.9L287.2 217.4L288 217.8L288.8 217.4L289.6 217.2L290.4 216.5L291.2 217.1L292 217.1L292.8 216.3L293.6 216.9L294.4 215.7L295.2 216.6L296 216.1L296.8 215.6L297.6 215L298.4 214.3L299.2 214.8L300 214L300.8 214.1L301.6 214.9L302.4 214.2L303.2 214.5L304 214.3L304.8 215.1L305.6 216L306.4 215.3L307.2 216.3L308 215.9L308.8 215.4L309.6 216.8L310.4 216.5L311.2 216.2L312 216.5L312.8 216.9L313.6 216.8L314.4 217.3L315.2 216.5L316 216.5L316.8 216.8L317.6 216.5L318.4 215.9L319.2 217.1L320 217L320.8 216.6L321.6 216.6L322.4 216.9L323.2 216.9L324 217.6L324.8 217L325.6 217L326.4 217.5L327.2 217.1L328 217.4L328.8 217.2L329.6 216.6L330.4 216.4L331.2 217.3L332 217.2L332.8 216.5L333.6 216.1L334.4 216.6L335.2 217L336 216.6L336.8 216.5L337.6 217.5L338.4 217.6L339.2 217.3L340 217.1L340.8 217.3L341.6 217.4L342.4 217.7L343.2 217.7L344 217.8L344.8 217.4L345.6 217.6L346.4 217.3L347.2 217.4L348 217.6L348.8 217.2L349.6 217.6L350.4 217.5L351.2 217.5L352 217.3L352.8 217.1L353.6 217.3L354.4 217.9L355.2 217.3L356 217.5L356.8 217.4L357.6 217.9L358.4 218L359.2 218L360 217.9L360.8 217.9L361.6 217.4L362.4 217.4L363.2 217.7L364 217.8L364.8 217.6L365.6 217.9L366.4 217.8L367.2 217.6L368 217.2L368.8 217.4L369.6 217.9L370.4 217.3L371.2 217.2L372 217.2L372.8 217.8L373.6 217.4L374.4 217L375.2 217.6L376 217.2L376.8 217.1L377.6 216.7L378.4 216.8L379.2 217L380 216.8L380.8 217.1L381.6 216.3L382.4 216.9L383.2 216.2L384 216.8L384.8 215.9L385.6 215.6L386.4 216.3L387.2 215.5L388 215.5L388.8 214.4L389.6 214.7L390.4 212.8L391.2 212.6L392 214.2L392.8 213.6L393.6 213.9L394.4 214.3L395.2 213.2L396 213.5L396.8 214.3L397.6 214.1L398.4 215.1L399.2 215.2L400 215L400.8 216.5L401.6 216.4L402.4 216.2L403.2 216.5L404 217.4L404.8 217.5L405.6 217.5L406.4 217.9L407.2 217.6L408 217.6L408.8 217.8L409.6 218.1L410.4 218L411.2 217.7L412 217.8L412.8 218.1L413.6 218.3L414.4 218.3L415.2 218.2L416 218L416.8 218.3L417.6 218.2L418.4 218.5L419.2 218.3L420 218.5L420.8 218.6L421.6 218.5L422.4 218.4L423.2 218.3L424 218.3L424.8 218.5L425.6 218.3L426.4 218.2L427.2 218.7L428 218.5L428.8 218.6L429.6 218.3L430.4 218.7L431.2 218.6L432 218.6L432.8 218.4L433.6 218.5L434.4 218.8L435.2 218.6L436 218.7L436.8 218.8L437.6 218.8L438.4 218.7L439.2 218.5L440 218.5L440.8 218.8L441.6 218.8L442.4 218.6L443.2 218.6L444 218.7L444.8 218.8L445.6 218.5L446.4 218.7L447.2 218.8L448 218.7L448.8 218.8L449.6 218.7L450.4 218.8L451.2 218.8L452 218.6L452.8 218.6L453.6 218.5L454.4 218.6L455.2 218.8L456 218.6L456.8 218.8L457.6 218.1L458.4 216.7L459.2 217L460 216.4L460.8 217.6L461.6 218.5L462.4 218.6L463.2 218.6L464 218.2L464.8 218.2L465.6 218.5L466.4 218.3L467.2 218.4L468 218.4L468.8 218.5L469.6 218.5L470.4 218.8L471.2 218.5L472 218.6L472.8 218.7L473.6 218.8L474.4 218.6L475.2 218.6L476 218.7L476.8 218.9L477.6 218.9L478.4 218.8L479.2 218.8L480 219L480.8 219L481.6 218.7L482.4 218.7L483.2 218.7L484 218.8L484.8 219L485.6 218.9L486.4 218.9L487.2 218.9L488 218.7L488.8 218.7L489.6 219L490.4 218.9L491.2 218.8L492 218.7L492.8 218.9L493.6 219L494.4 218.8L495.2 219L496 218.8L496.8 218.8L497.6 218.8L498.4 218.8L499.2 219L500 218.9L500.8 219L501.6 219.1L502.4 218.8L503.2 219L504 218.9L504.8 219L505.6 218.9L506.4 219L507.2 218.9L508 218.8L508.8 219L509.6 218.9L510.4 218.9L511.2 218.8L512 219L512.8 218.8L512.8 219.7Z" fill="#0c2486"/>
<path d="M146 241.8L146 241.8L146.8 241.1L147.6 240.2L148.4 239.9L149.2 239.5L150 239.4L150.8 239.8L151.6 239.7L152.4 239.3L153.2 239.5L154 240.7L154.8 241.4L155.6 241.6L156.4 241.8L157.2 241.8L158 241.8L158.8 241.8L159.6 241.8L160.4 241.8L161.2 241.8L162 241.8L162.8 241.8L163.6 241.8L164.4 241.8L165.2 241.8L166 241.8L166.8 241.8L167.6 241.8L168.4 241.8L169.2 241.8L170 241.8L170.8 241.8L171.6 241.8L172.4 241.8L173.2 241.8L174 241.8L174.8 241.8L175.6 241.2L176.4 240.6L177.2 240.2L178 238.9L178.8 238.3L179.6 238L180.4 237.8L181.2 238L182 238.5L182.8 237.4L183.6 237.6L184.4 237.8L185.2 238.3L186 237.6L186.8 237.8L187.6 237L188.4 237.5L189.2 237.8L190 238L190.8 237.2L191.6 238.6L192.4 239.5L193.2 240.1L194 240.7L194.8 241.6L195.6 241.8L196.4 241.8L197.2 241.8L198 241.8L198.8 241.8L199.6 241.8L200.4 241.8L201.2 241.8L202 241.8L202.8 241.8L203.6 241.8L204.4 241.8L205.2 241.8L206 241.8L206.8 241.8L207.6 241.8L208.4 241.8L209.2 241.8L210 241.8L210.8 241.8L211.6 241.8L212.4 241.6L213.2 240.8L214 240.3L214.8 240.2L215.6 240.2L216.4 239.8L217.2 240.3L218 240.4L218.8 240.8L219.6 241L220.4 241.4L221.2 241.6L222 241.8L222.8 241.8L223.6 241.8L224.4 241.8L225.2 241.8L226 241.8L226.8 241.8L227.6 241.8L228.4 241.8L229.2 241.8L230 241.8L230.8 241.8L231.6 241.8L232.4 241.8L233.2 241.8L234 241.8L234.8 241.8L235.6 241.8L236.4 241.8L237.2 241.8L238 241.8L238.8 241.8L239.6 241.8L240.4 241.8L241.2 241.8L242 241.8L242.8 241.8L243.6 241.8L244.4 241.8L245.2 241.8L246 241.8L246.8 241.8L247.6 241.8L248.4 241.8L249.2 241.8L250 241.8L250.8 241.8L251.6 241.8L252.4 241.8L253.2 241.8L254 241.8L254.8 241.8L255.6 241.8L256.4 241.8L257.2 241.8L258 241.8L258.8 241.8L259.6 241.8L260.4 241.8L261.2 241.8L262 241.8L262.8 241.8L263.6 241.8L264.4 241.8L265.2 241.8L266 241.8L266.8 241.8L267.6 241.8L268.4 241.8L269.2 241.8L270 241.8L270.8 241.8L271.6 241.8L272.4 241.8L273.2 241.8L274 241.8L274.8 241.8L275.6 241.8L276.4 241.8L277.2 241.8L278 241.8L278.8 241.8L279.6 241.8L280.4 241.8L281.2 241.4L282 240.9L282.8 236.6L283.6 228.9L284.4 227.4L285.2 222.6L286 225.3L286.8 224.6L287.6 223.5L288.4 224.7L289.2 225.8L290 220L290.8 226.5L291.6 227.1L292.4 224.5L293.2 225.1L294 224.8L294.8 223.8L295.6 224.4L296.4 220.8L297.2 226L298 222.3L298.8 221.4L299.6 225L300.4 225L301.2 228.9L302 223.9L302.8 227.3L303.6 228.5L304.4 227.5L305.2 231.7L306 234.7L306.8 236.7L307.6 237.3L308.4 239.9L309.2 241L310 241.8L310 241.8Z" fill="#5577dd" fill-opacity="0.9"/>
<path d="M146 241.8L146 241.8L146.8 241.3L147.6 240.5L148.4 240.3L149.2 239.9L150 239.7L150.8 240.3L151.6 240L152.4 240L153.2 239.4L154 240.6L154.8 241.5L155.6 241.7L156.4 241.8L157.2 241.8L158 241.8L158.8 241.8L159.6 241.8L160.4 241.8L161.2 241.8L162 241.8L162.8 241.8L163.6 241.8L164.4 241.8L165.2 241.8L166 241.8L166.8 241.8L167.6 241.8L168.4 241.8L169.2 241.8L170 241.8L170.8 241.8L171.6 241.8L172.4 241.8L173.2 241.8L174 241.8L174.8 241.8L175.6 241.4L176.4 241L177.2 240.4L178 239.8L178.8 238.6L179.6 237.9L180.4 238.2L181.2 238.5L182 238.8L182.8 238.2L183.6 237.8L184.4 238.7L185.2 238.7L186 238L186.8 238.3L187.6 238.2L188.4 238.7L189.2 238.3L190 238.7L190.8 239.1L191.6 239.6L192.4 239.6L193.2 240.6L194 240.9L194.8 241.7L195.6 241.8L196.4 241.8L197.2 241.8L198 241.8L198.8 241.8L199.6 241.8L200.4 241.8L201.2 241.8L202 241.8L202.8 241.8L203.6 241.8L204.4 241.8L205.2 241.8L206 241.8L206.8 241.8L207.6 241.8L208.4 241.8L209.2 241.8L210 241.8L210.8 241.8L211.6 241.8L212.4 241.6L213.2 241.2L214 240.6L214.8 240.8L215.6 240.4L216.4 240.1L217.2 240.4L218 240.8L218.8 241L219.6 241.1L220.4 241.5L221.2 241.6L222 241.8L222.8 241.8L223.6 241.8L224.4 241.8L225.2 241.8L226 241.8L226.8 241.8L227.6 241.8L228.4 241.8L229.2 241.8L230 241.8L230.8 241.8L231.6 241.8L232.4 241.8L233.2 241.8L234 241.8L234.8 241.8L235.6 241.8L236.4 241.8L237.2 241.8L238 241.8L238.8 241.8L239.6 241.8L240.4 241.8L241.2 241.8L242 241.8L242.8 241.8L243.6 241.8L244.4 241.8L245.2 241.8L246 241.8L246.8 241.8L247.6 241.8L248.4 241.8L249.2 241.8L250 241.8L250.8 241.8L251.6 241.8L252.4 241.8L253.2 241.8L254 241.8L254.8 241.8L255.6 241.8L256.4 241.8L257.2 241.8L258 241.8L258.8 241.8L259.6 241.8L260.4 241.8L261.2 241.8L262 241.8L262.8 241.8L263.6 241.8L264.4 241.8L265.2 241.8L266 241.8L266.8 241.8L267.6 241.8L268.4 241.8L269.2 241.8L270 241.8L270.8 241.8L271.6 241.8L272.4 241.8L273.2 241.8L274 241.8L274.8 241.8L275.6 241.8L276.4 241.8L277.2 241.8L278 241.8L278.8 241.8L279.6 241.8L280.4 241.8L281.2 241.6L282 241.1L282.8 238.7L283.6 234.5L284.4 234.7L285.2 233.8L286 233.7L286.8 234.3L287.6 233.8L288.4 234.3L289.2 233.9L290 232.7L290.8 233.2L291.6 232.2L292.4 233.9L293.2 233.7L294 234.1L294.8 235.3L295.6 233.9L296.4 233.9L297.2 235.1L298 233.8L298.8 235L299.6 233.1L300.4 233.4L301.2 234.3L302 235.4L302.8 235.8L303.6 236.3L304.4 236.7L305.2 236.2L306 237.5L306.8 238.2L307.6 239.3L308.4 240L309.2 241.1L310 241.8L310 241.8Z" fill="#0c2486"/>
<path d="M114.4 27.6V242.4" stroke="#111" stroke-width="1.5" fill="none"/>
<path d="M113.7 27.6H513.5" stroke="#111" stroke-width="1.2" fill="none"/>
<path d="M513.0 27.6V242.4" stroke="#111" stroke-width="1.2" fill="none"/>
<path d="M113.7 241.8H513.5" stroke="#111" stroke-width="1.5" fill="none"/>
<text x="107.2" y="50.2" font-size="8.3" text-anchor="end" textLength="13.5" lengthAdjust="spacingAndGlyphs">200</text>
<text x="107.2" y="64.9" font-size="8.3" text-anchor="end" textLength="4.6" lengthAdjust="spacingAndGlyphs">0</text>
<text x="107.2" y="72.5" font-size="8.3" text-anchor="end" textLength="13.5" lengthAdjust="spacingAndGlyphs">200</text>
<text x="107.2" y="87.0" font-size="8.3" text-anchor="end" textLength="4.6" lengthAdjust="spacingAndGlyphs">0</text>
<text x="107.2" y="94.6" font-size="8.3" text-anchor="end" textLength="13.5" lengthAdjust="spacingAndGlyphs">400</text>
<text x="107.2" y="109.0" font-size="8.3" text-anchor="end" textLength="4.6" lengthAdjust="spacingAndGlyphs">0</text>
<text x="107.2" y="116.6" font-size="8.3" text-anchor="end" textLength="13.5" lengthAdjust="spacingAndGlyphs">200</text>
<text x="107.2" y="131.1" font-size="8.3" text-anchor="end" textLength="4.6" lengthAdjust="spacingAndGlyphs">0</text>
<text x="107.2" y="138.7" font-size="8.3" text-anchor="end" textLength="13.5" lengthAdjust="spacingAndGlyphs">150</text>
<text x="107.2" y="153.2" font-size="8.3" text-anchor="end" textLength="4.6" lengthAdjust="spacingAndGlyphs">0</text>
<text x="107.2" y="160.8" font-size="8.3" text-anchor="end" textLength="11.4" lengthAdjust="spacingAndGlyphs">3.9</text>
<text x="107.2" y="175.3" font-size="8.3" text-anchor="end" textLength="4.6" lengthAdjust="spacingAndGlyphs">0</text>
<text x="107.2" y="182.9" font-size="8.3" text-anchor="end" textLength="11.4" lengthAdjust="spacingAndGlyphs">8.3</text>
<text x="107.2" y="197.3" font-size="8.3" text-anchor="end" textLength="4.6" lengthAdjust="spacingAndGlyphs">0</text>
<text x="107.2" y="204.9" font-size="8.3" text-anchor="end" textLength="11.4" lengthAdjust="spacingAndGlyphs">4.2</text>
<text x="107.2" y="219.4" font-size="8.3" text-anchor="end" textLength="4.6" lengthAdjust="spacingAndGlyphs">0</text>
<text x="107.2" y="227.0" font-size="8.3" text-anchor="end" textLength="16" lengthAdjust="spacingAndGlyphs">12.4</text>
<text x="107.2" y="244.0" font-size="8.3" text-anchor="end" textLength="4.6" lengthAdjust="spacingAndGlyphs">0</text>
<path d="M110.4 46H114.4M110.4 64.8H114.4M110.4 67.4H114.4M110.4 86.9H114.4M110.4 89.5H114.4M110.4 108.9H114.4M110.4 111.5H114.4M110.4 131H114.4M110.4 133.6H114.4M110.4 153.1H114.4M110.4 155.7H114.4M110.4 175.2H114.4M110.4 177.8H114.4M110.4 197.2H114.4M110.4 199.8H114.4M110.4 219.3H114.4M110.4 221.9H114.4M110.4 241.4H114.4" stroke="#111" stroke-width="1.1" fill="none"/>
<text x="115.8" y="43.4" font-size="7.9" textLength="17.7" lengthAdjust="spacingAndGlyphs">0,000</text>
<text x="155.4" y="43.4" font-size="7.9" textLength="36.6" lengthAdjust="spacingAndGlyphs">47,400,000</text>
<text x="217.6" y="43.4" font-size="7.9" textLength="36.6" lengthAdjust="spacingAndGlyphs">47,390,000</text>
<text x="277.6" y="43.4" font-size="7.9" textLength="36.6" lengthAdjust="spacingAndGlyphs">47,380,000</text>
<text x="339.0" y="43.4" font-size="7.9" textLength="36.6" lengthAdjust="spacingAndGlyphs">47,370,000</text>
<text x="396.6" y="43.4" font-size="7.9" textLength="36.6" lengthAdjust="spacingAndGlyphs">47,360,000</text>
<text x="459.8" y="43.4" font-size="7.9" textLength="36.6" lengthAdjust="spacingAndGlyphs">47,350,000</text>
<path d="M153.1 36.8V43.2M213.2 36.8V43.2M273.8 36.8V43.2M334.8 36.8V43.2M394.9 36.8V43.2M455.9 36.8V43.2" stroke="#222" stroke-width="0.9"/>
<text x="215" y="35.4" font-size="7.8" textLength="19.5" lengthAdjust="spacingAndGlyphs">hg38</text>
<path d="M238.8 31.2H359.3M238.8 28.6V34M359.3 28.6V34" stroke="#222" stroke-width="0.9" fill="none"/>
<text x="360.9" y="35.4" font-size="7.8" textLength="18.5" lengthAdjust="spacingAndGlyphs">20 kb</text>
<path d="M154.9 78.3L177.5 63.7M177.5 63.7L172.3 64.3M177.5 63.7L174.8 68.2M154.9 78.3L178.3 79.2M178.3 79.2L173.7 76.7M178.3 79.2L173.5 81.3M154.9 78.3L177.1 98.6M177.1 98.6L175.2 93.8M177.1 98.6L172.1 97.1M154.9 78.3L177.5 122.0M177.5 122.0L177.4 116.8M177.5 122.0L173.3 118.9M224.8 77.8L247.5 62.6M247.5 62.6L242.3 63.3M247.5 62.6L244.9 67.1M224.8 77.8L248.6 78.2M248.6 78.2L244.0 75.8M248.6 78.2L243.9 80.4M224.8 77.8L247.5 97.9M247.5 97.9L245.5 93.1M247.5 97.9L242.5 96.5M224.8 77.8L247.5 121.3M247.5 121.3L247.4 116.1M247.5 121.3L243.3 118.2" stroke="#1a1a1a" stroke-width="0.95" fill="none" stroke-linecap="round"/>
<ellipse cx="148.9" cy="74.9" rx="6.5" ry="5.3" fill="#fff" stroke="#111" stroke-width="0.9"/>
<text x="148.9" y="77.5" font-size="7.2" text-anchor="middle" class="lt">#1</text>
<ellipse cx="218.3" cy="74.9" rx="6.5" ry="5.3" fill="#fff" stroke="#111" stroke-width="0.9"/>
<text x="218.3" y="77.5" font-size="7.2" text-anchor="middle" class="lt">#2</text>
<text x="7.8" y="17.4" font-size="11.8" font-weight="bold" textLength="8.4" lengthAdjust="spacingAndGlyphs">A</text>
<text x="114.6" y="16.7" font-size="9.6" textLength="144.6" lengthAdjust="spacingAndGlyphs" class="lt">Gene track view of the <tspan font-style="italic">PU.1</tspan> locus</text>
<text x="40.8" y="55.8" font-size="8.9" textLength="22" lengthAdjust="spacingAndGlyphs">THP-1</text>
<text x="40.8" y="79.2" font-size="8.9" textLength="19.5" lengthAdjust="spacingAndGlyphs">HL60</text>
<text x="40.8" y="99" font-size="8.9" textLength="41.5" lengthAdjust="spacingAndGlyphs">Monocytes</text>
<text x="40.8" y="120.7" font-size="8.9" textLength="23.6" lengthAdjust="spacingAndGlyphs">Jurkat</text>
<text x="40.8" y="144.7" font-size="8.9" textLength="39.2" lengthAdjust="spacingAndGlyphs">CAGE-seq</text>
<text x="40.8" y="164.6" font-size="8.9" textLength="41.8" lengthAdjust="spacingAndGlyphs">DNase-seq</text>
<text x="40.8" y="188.2" font-size="8.9" textLength="34.5" lengthAdjust="spacingAndGlyphs">H3K27ac</text>
<text x="40.8" y="210.3" font-size="8.9" textLength="37.1" lengthAdjust="spacingAndGlyphs">H3K4me1</text>
<text x="40.8" y="230.4" font-size="8.9" textLength="37.5" lengthAdjust="spacingAndGlyphs">H3K4me3</text>
<path d="M36.4 51.9H33.2V118H36.4" stroke="#111" stroke-width="1.4" fill="none"/>
<path d="M39.2 183.5H36.4V228.9H39.2" stroke="#111" stroke-width="1.4" fill="none"/>
<text x="26.8" y="86.3" font-size="9.4" text-anchor="middle" textLength="37.5" lengthAdjust="spacingAndGlyphs" transform="rotate(-90 26.8 86.3)">RNA-seq</text>
<text x="27.4" y="207.8" font-size="9.4" text-anchor="middle" textLength="38" lengthAdjust="spacingAndGlyphs" transform="rotate(-90 27.4 207.8)">ChIP-seq</text>
<path d="M102.5 263.0H512.3" stroke="#222" stroke-width="1.4"/>
<rect x="174.6" y="259.9" width="13.8" height="5.9" fill="#fff" stroke="#111" stroke-width="1.3"/>
<text x="183" y="277.2" font-size="9" text-anchor="middle" textLength="17.8" lengthAdjust="spacingAndGlyphs">URE</text>
<rect x="278.5" y="260.3" width="4" height="5.4" fill="#000"/>
<path d="M281.9 267.3V251.3H297.4M293 247.9L297.9 251.3L293 254.7" stroke="#111" stroke-width="1.4" fill="none"/>
<path d="M299.6 258.4V268" stroke="#111" stroke-width="1.3"/>
<text x="306.2" y="253" font-size="10" font-style="italic" textLength="19.6" lengthAdjust="spacingAndGlyphs">PU.1</text>
<path d="M394.4 257.6V268M399.4 257.6V268" stroke="#111" stroke-width="1.3"/>
<rect x="420.2" y="258" width="4.3" height="10" fill="#000"/><rect x="424.4" y="260.3" width="6.2" height="5.5" fill="#000"/>
<path d="M441.6 267.5V251.8H457.2M452.8 248.4L457.7 251.8L452.8 255.2" stroke="#111" stroke-width="1.4" fill="none"/>
<path d="M449.1 257.4V267.8" stroke="#111" stroke-width="2.6"/>
<path d="M453.4 257.4V267.8" stroke="#111" stroke-width="1.3"/>
<path d="M456 257.4V267.8" stroke="#111" stroke-width="1.3"/>
<path d="M458.3 257.4V267.8" stroke="#111" stroke-width="1.3"/>
<path d="M464.6 257.4V267.8" stroke="#111" stroke-width="1.3"/>
<path d="M468.4 257.4V267.8" stroke="#111" stroke-width="1.3"/>
<path d="M470.7 257.4V267.8" stroke="#111" stroke-width="1.3"/>
<path d="M472.8 257.4V267.8" stroke="#111" stroke-width="1.3"/>
<path d="M475.3 257.4V267.8" stroke="#111" stroke-width="1.3"/>
<path d="M478.4 257.4V267.8" stroke="#111" stroke-width="1.3"/>
<path d="M481.4 257.4V267.8" stroke="#111" stroke-width="1.3"/>
<path d="M495.9 257.4V267.8" stroke="#333" stroke-width="1.7"/>
<path d="M498.2 257.4V267.8" stroke="#333" stroke-width="1.7"/>
<path d="M500.4 257.4V267.8" stroke="#333" stroke-width="1.7"/>
<path d="M502.6 257.4V267.8" stroke="#333" stroke-width="1.7"/>
<text x="463.2" y="253.6" font-size="10" font-style="italic" textLength="37.8" lengthAdjust="spacingAndGlyphs">MYBPC3</text>
<text x="8" y="299.5" font-size="11.8" text-anchor="start" font-weight="bold" textLength="7.4" lengthAdjust="spacingAndGlyphs" >B</text>
<text x="76.6" y="309.2" font-size="9.7" text-anchor="start" textLength="58.6" lengthAdjust="spacingAndGlyphs"  class="lt"><tspan font-style="italic">LOUP</tspan> RT-PCR</text>
<defs><filter id="b1" x="-30%" y="-60%" width="160%" height="220%"><feGaussianBlur stdDeviation="1.7 1.4"/></filter><filter id="b2" x="-30%" y="-30%" width="160%" height="160%"><feGaussianBlur stdDeviation="1.9 2.6"/></filter><filter id="b3" x="-30%" y="-60%" width="160%" height="220%"><feGaussianBlur stdDeviation="0.8"/></filter><filter id="b5" x="-50%" y="-100%" width="200%" height="300%"><feGaussianBlur stdDeviation="1.6 2.1"/></filter><filter id="b4" x="-50%" y="-50%" width="200%" height="200%"><feGaussianBlur stdDeviation="1.3 1.5"/></filter></defs>
<rect x="52.2" y="364" width="139.2" height="23.4" fill="#a9a9a9" stroke="#111" stroke-width="1.2"/>
<g filter="url(#b3)"><rect x="56.1" y="365.8" width="13.5" height="5.8" rx="2.4" fill="#030303"/><rect x="55.6" y="374.6" width="14.4" height="8.6" rx="3.5" fill="#030303"/></g>
<g filter="url(#b1)"><rect x="125.6" y="375" width="11" height="6.2" rx="2.5" fill="#505050"/><rect x="147" y="375.2" width="11.5" height="6" rx="2.5" fill="#727272"/><rect x="170" y="375.4" width="11" height="5.6" rx="2.5" fill="#858585"/><rect x="127" y="368.5" width="4.5" height="2.6" fill="#9c9c9c"/></g>
<path d="M47.6 368.5H52M47.6 379H52" stroke="#111" stroke-width="1.1"/>
<text x="44.6" y="371.6" font-size="8.6" text-anchor="end" textLength="13.6" lengthAdjust="spacingAndGlyphs" >200</text>
<text x="44.6" y="382.1" font-size="8.6" text-anchor="end" textLength="13.6" lengthAdjust="spacingAndGlyphs" >100</text>
<text x="67.2" y="361" font-size="9.6" text-anchor="start" textLength="41.5" lengthAdjust="spacingAndGlyphs" transform="rotate(-45 67.2 361)" >100 bp ladder</text>
<text x="92.8" y="361" font-size="9.6" text-anchor="start" textLength="27.5" lengthAdjust="spacingAndGlyphs" transform="rotate(-45 92.8 361)" >Unrelated</text>
<text x="115.5" y="361" font-size="9.6" text-anchor="start" textLength="31.5" lengthAdjust="spacingAndGlyphs" transform="rotate(-45 115.5 361)" >Anti-sense</text>
<text x="138.3" y="361" font-size="9.6" text-anchor="start" textLength="18" lengthAdjust="spacingAndGlyphs" transform="rotate(-45 138.3 361)" >Sense</text>
<text x="159.2" y="361" font-size="9.6" text-anchor="start" textLength="28.5" lengthAdjust="spacingAndGlyphs" transform="rotate(-45 159.2 361)" >Oligo(dT)</text>
<text x="186.5" y="361" font-size="9.6" text-anchor="start" textLength="52.5" lengthAdjust="spacingAndGlyphs" transform="rotate(-45 186.5 361)" >Random hexamers</text>
<text x="114.8" y="405" font-size="8.6" text-anchor="middle" textLength="35.5" lengthAdjust="spacingAndGlyphs" fill="#3a3a3a"  class="lt">HL-60 cells</text>
<text x="255.2" y="299.5" font-size="11.8" text-anchor="start" font-weight="bold" textLength="7.4" lengthAdjust="spacingAndGlyphs" >C</text>
<text x="273" y="298.7" font-size="9.7" text-anchor="start" textLength="58.4" lengthAdjust="spacingAndGlyphs"  class="lt">Northern blot</text>
<text x="292" y="309.3" font-size="9.4" text-anchor="start" textLength="23" lengthAdjust="spacingAndGlyphs" >Probe</text>
<path d="M282.5 314.9H326.3" stroke="#111" stroke-width="1.5"/>
<rect x="276.2" y="319.8" width="30.5" height="13" fill="#dd7282"/><rect x="306.7" y="319.8" width="30.8" height="13" fill="#5f92ba"/>
<text x="291.4" y="329.4" font-size="8.8" text-anchor="middle" textLength="9.5" lengthAdjust="spacingAndGlyphs" >E1</text>
<text x="321.8" y="329.4" font-size="8.8" text-anchor="middle" textLength="14.5" lengthAdjust="spacingAndGlyphs" >E2a</text>
<text x="280.5" y="354" font-size="9.2" text-anchor="start" textLength="20.2" lengthAdjust="spacingAndGlyphs" >U937</text>
<text x="309.3" y="354" font-size="9.2" text-anchor="start" textLength="23.2" lengthAdjust="spacingAndGlyphs" >Jurkat</text>
<path d="M270 359.8H301.8M307.5 359.8H338.8" stroke="#111" stroke-width="1.6"/>
<text x="268.6" y="382" font-size="8.4" text-anchor="start" textLength="18.5" lengthAdjust="spacingAndGlyphs" transform="rotate(-45 268.6 382)" >polyA-</text>
<text x="286.8" y="383.5" font-size="8.4" text-anchor="start" textLength="20.5" lengthAdjust="spacingAndGlyphs" transform="rotate(-45 286.8 383.5)" >polyA+</text>
<text x="305.4" y="382" font-size="8.4" text-anchor="start" textLength="18.5" lengthAdjust="spacingAndGlyphs" transform="rotate(-45 305.4 382)" >polyA-</text>
<text x="324.6" y="383.5" font-size="8.4" text-anchor="start" textLength="20.5" lengthAdjust="spacingAndGlyphs" transform="rotate(-45 324.6 383.5)" >polyA+</text>
<defs><linearGradient id="bg1" x1="0" y1="0" x2="1" y2="1"><stop offset="0" stop-color="#cacaca"/><stop offset="0.5" stop-color="#c8c8c8"/><stop offset="1" stop-color="#c2c2c2"/></linearGradient></defs>
<rect x="270.2" y="392.8" width="68.4" height="170.4" fill="url(#bg1)" stroke="#111" stroke-width="1.3"/>
<g filter="url(#b2)"><rect x="291.5" y="438" width="10.5" height="102" fill="#bbb"/><rect x="290" y="450" width="13.5" height="80" fill="#a9a9a9"/><rect x="289.4" y="458" width="14.6" height="15.5" fill="#5c5c5c"/><rect x="290" y="475" width="13.5" height="20" fill="#9a9a9a"/><rect x="289.6" y="496" width="14.2" height="12.5" fill="#6a6a6a"/><rect x="290.5" y="510" width="12.5" height="14" fill="#a2a2a2"/><rect x="291.5" y="522" width="11" height="14" fill="#b4b4b4"/></g>
<circle cx="285.8" cy="503.8" r="1.4" fill="#383838"/><circle cx="330.6" cy="517.8" r="1.9" fill="#2c2c2c"/>
<path d="M339 438.8H341.6M339 481H341.6" stroke="#111" stroke-width="1.1"/>
<text x="344.4" y="442" font-size="8.6" text-anchor="start" textLength="53.6" lengthAdjust="spacingAndGlyphs" >28S (~ 4.7 Kb)</text>
<text x="344.4" y="484.2" font-size="8.6" text-anchor="start" textLength="53.6" lengthAdjust="spacingAndGlyphs" >18S (~ 1.9 Kb)</text>
<defs><linearGradient id="ln" x1="0" y1="0" x2="0" y2="1"><stop offset="0" stop-color="#494949"/><stop offset="0.25" stop-color="#555"/><stop offset="0.7" stop-color="#5a5a5a"/><stop offset="0.8" stop-color="#686868"/><stop offset="1" stop-color="#646464"/></linearGradient><clipPath id="gc"><rect x="270.2" y="572.4" width="68.4" height="72.2"/></clipPath></defs>
<rect x="270.2" y="572.4" width="68.4" height="72.2" fill="#3f3f3f"/>
<g clip-path="url(#gc)"><g filter="url(#b4)">
<rect x="272.8" y="570" width="12.9" height="78" fill="url(#ln)"/>
<rect x="290.40000000000003" y="570" width="11.5" height="78" fill="url(#ln)"/>
<rect x="306.1" y="570" width="11.9" height="78" fill="url(#ln)"/>
<rect x="323.0" y="570" width="12.0" height="78" fill="url(#ln)"/>
</g><g filter="url(#b5)">
<rect x="273" y="588.6" width="12.5" height="6.4" fill="#727272"/><rect x="273" y="619.6" width="12.5" height="6.4" fill="#909090"/>
<rect x="290.6" y="588.6" width="11.1" height="6.4" fill="#5c5c5c"/><rect x="290.6" y="619.6" width="11.1" height="6.4" fill="#808080"/>
<rect x="306.3" y="588.6" width="11.5" height="6.4" fill="#b4b4b4"/><rect x="306.3" y="619.6" width="11.5" height="6.4" fill="#d8d8d8"/>
<rect x="323.2" y="588.6" width="11.6" height="6.4" fill="#646464"/><rect x="323.2" y="619.6" width="11.6" height="6.4" fill="#9c9c9c"/>
</g></g>
<rect x="270.2" y="572.4" width="68.4" height="72.2" fill="none" stroke="#111" stroke-width="1.3"/>
<path d="M339 591.4H341.6M339 622.7H341.6" stroke="#111" stroke-width="1.1"/>
<text x="344.4" y="594.5" font-size="8.6" text-anchor="start" textLength="53.6" lengthAdjust="spacingAndGlyphs" >28S (~ 4.7 Kb)</text>
<text x="344.4" y="625.8" font-size="8.6" text-anchor="start" textLength="53.6" lengthAdjust="spacingAndGlyphs" >18S (~ 1.9 Kb)</text>
<text x="8" y="429.6" font-size="11.8" text-anchor="start" font-weight="bold" textLength="8.4" lengthAdjust="spacingAndGlyphs" >D</text>
<rect x="57.6" y="562.6" width="16.2" height="9.1" fill="#c61f37"/>
<rect x="78.3" y="487.9" width="16" height="83.8" fill="#08528a"/>
<path d="M65.6 562.6V557.4M61 557.4H70.2M86.4 487.9V455.2M81.9 455.2H91" stroke="#111" stroke-width="1.3" fill="none"/>
<path d="M48 440.7V571.7M41.8 571.7H106.3M41.8 539.6H48M41.8 506.4H48M41.8 475.0H48M41.8 441.3H48M65.6 571.7V575.8M86.4 571.7V575.8" stroke="#111" stroke-width="1.5" fill="none"/>
<text x="39.4" y="574.8" font-size="8.6" text-anchor="end" textLength="4.6" lengthAdjust="spacingAndGlyphs" >0</text>
<text x="39.4" y="542.7" font-size="8.6" text-anchor="end" textLength="9.2" lengthAdjust="spacingAndGlyphs" >50</text>
<text x="39.4" y="509.5" font-size="8.6" text-anchor="end" textLength="13.8" lengthAdjust="spacingAndGlyphs" >100</text>
<text x="39.4" y="478.1" font-size="8.6" text-anchor="end" textLength="13.8" lengthAdjust="spacingAndGlyphs" >150</text>
<text x="39.4" y="444.4" font-size="8.6" text-anchor="end" textLength="13.8" lengthAdjust="spacingAndGlyphs" >200</text>
<path d="M64.3 448.2V443.8H87.5V448.2" stroke="#111" stroke-width="1.25" fill="none"/>
<text x="75.8" y="441.3" font-size="9" text-anchor="middle" textLength="10" lengthAdjust="spacingAndGlyphs" >***</text>
<text x="17.5" y="505.8" font-size="8.8" text-anchor="middle" textLength="80.4" lengthAdjust="spacingAndGlyphs" transform="rotate(-90 17.5 505.8)" ><tspan font-style="italic">LOUP</tspan> molecules/pg RNA</text>
<text x="55.6" y="595.4" font-size="8.4" text-anchor="start" textLength="18.5" lengthAdjust="spacingAndGlyphs" transform="rotate(-45 55.6 595.4)" >polyA-</text>
<text x="75" y="597" font-size="8.4" text-anchor="start" textLength="20.5" lengthAdjust="spacingAndGlyphs" transform="rotate(-45 75 597)" >polyA+</text>
<text x="70" y="621.3" font-size="8.6" text-anchor="middle" textLength="36" lengthAdjust="spacingAndGlyphs" fill="#3a3a3a"  class="lt">HL-60 cells</text>
<text x="127" y="429.6" font-size="11.8" text-anchor="start" font-weight="bold" textLength="6.4" lengthAdjust="spacingAndGlyphs" >E</text>
<rect x="176.7" y="472.4" width="16.3" height="98.1" fill="#c61f37"/>
<rect x="198.8" y="533.9" width="15.8" height="36.6" fill="#08528a"/>
<rect x="220.8" y="557.8" width="16.2" height="12.7" fill="#3bb24a"/>
<path d="M184.8 472.4V467.4M180.2 467.4H189.4M206.7 533.9V529.4M202.1 529.4H211.3M228.9 557.8V555.3M224.3 555.3H233.5" stroke="#111" stroke-width="1.3" fill="none"/>
<path d="M165.4 445.3V570.5M159.8 570.5H248.8M159.8 545.6H165.4M159.8 520.7H165.4M159.8 495.8H165.4M159.8 470.9H165.4M159.8 446.0H165.4M184.4 570.5V574.2M206.3 570.5V574.2M228.5 570.5V574.2" stroke="#111" stroke-width="1.5" fill="none"/>
<text x="158" y="573.6" font-size="8.6" text-anchor="end" textLength="4.6" lengthAdjust="spacingAndGlyphs" >0</text>
<text x="158" y="548.7" font-size="8.6" text-anchor="end" textLength="9.3" lengthAdjust="spacingAndGlyphs" >10</text>
<text x="158" y="523.8" font-size="8.6" text-anchor="end" textLength="9.3" lengthAdjust="spacingAndGlyphs" >20</text>
<text x="158" y="498.9" font-size="8.6" text-anchor="end" textLength="9.3" lengthAdjust="spacingAndGlyphs" >30</text>
<text x="158" y="474.0" font-size="8.6" text-anchor="end" textLength="9.3" lengthAdjust="spacingAndGlyphs" >40</text>
<text x="158" y="449.1" font-size="8.6" text-anchor="end" textLength="9.3" lengthAdjust="spacingAndGlyphs" >50</text>
<path d="M182.5 448.2V443.8H229.3V452.6M182.5 464.6V459.3H205.8V464.6M207.6 519.6V514.6H230.5V519.6" stroke="#111" stroke-width="1.25" fill="none"/>
<text x="208" y="441.3" font-size="9" text-anchor="middle" textLength="13.4" lengthAdjust="spacingAndGlyphs" >****</text>
<text x="193.8" y="456.8" font-size="9" text-anchor="middle" textLength="13.4" lengthAdjust="spacingAndGlyphs" >****</text>
<text x="219.3" y="512" font-size="9" text-anchor="middle" textLength="6.8" lengthAdjust="spacingAndGlyphs" >**</text>
<text x="137.3" y="504.7" font-size="8.8" text-anchor="middle" textLength="80.4" lengthAdjust="spacingAndGlyphs" transform="rotate(-90 137.3 504.7)" ><tspan font-style="italic">LOUP</tspan> molecules per cell</text>
<text x="174.6" y="591.2" font-size="8.2" text-anchor="start" textLength="17.8" lengthAdjust="spacingAndGlyphs" transform="rotate(-45 174.6 591.2)" >U937</text>
<text x="197" y="591.2" font-size="8.2" text-anchor="start" textLength="17.8" lengthAdjust="spacingAndGlyphs" transform="rotate(-45 197 591.2)" >HL60</text>
<text x="219.8" y="588.8" font-size="8.2" text-anchor="start" textLength="14.2" lengthAdjust="spacingAndGlyphs" transform="rotate(-45 219.8 588.8)" >NB4</text>
<path d="M0.75 0V653M0 0.7H520M519.35 0V653M0 652.1H520" stroke="#000" stroke-width="1.5" fill="none"/>
<path d="M0 652.2H520" stroke="#000" stroke-width="1.8" fill="none"/>
</svg>
</body></html>
